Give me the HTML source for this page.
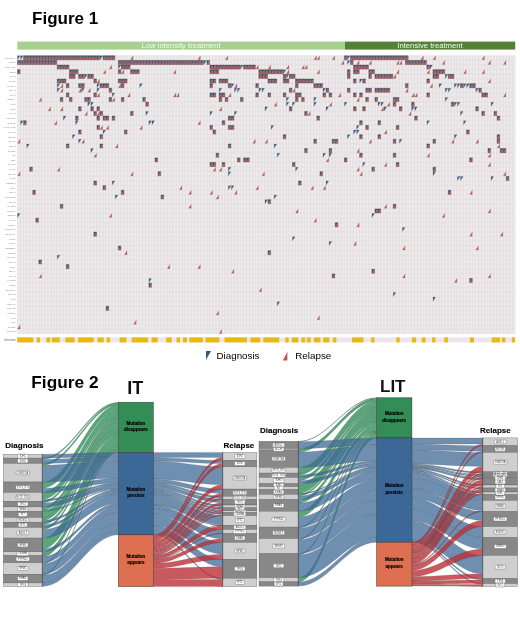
<!DOCTYPE html><html><head><meta charset="utf-8"><style>html,body{margin:0;padding:0;background:#fff;}svg{display:block;filter:blur(0.3px);font-family:"Liberation Sans",sans-serif;}</style></head><body>
<svg width="520" height="624" viewBox="0 0 520 624">
<rect width="520" height="624" fill="#fff"/>
<text x="32.1" y="23.6" font-size="17" font-weight="bold" fill="#000">Figure 1</text>
<rect x="17.3" y="41.6" width="327.7" height="8" fill="#a6d08e"/>
<rect x="345" y="41.6" width="170.2" height="8" fill="#548235"/>
<text x="181" y="48.3" font-size="7.7" text-anchor="middle" fill="#f4faef">Low intensity treatment</text>
<text x="430" y="48.3" font-size="7.7" text-anchor="middle" fill="#f4faef">Intensive treatment</text>
<rect x="17.3" y="55.5" width="497.97" height="278.4" fill="#dcd6d8"/>
<defs><pattern id="cp" x="17.3" y="55.5" width="3.055" height="4.64" patternUnits="userSpaceOnUse"><rect x="0.35" y="0.28" width="2.36" height="4.08" fill="#efeced"/></pattern></defs>
<rect x="17.3" y="55.5" width="497.97" height="278.4" fill="url(#cp)"/>
<path fill="#3b5f86" stroke="#2a3040" stroke-width="0.25" stroke-opacity="0.5" d="M17.55 55.8H20.11L17.55 59.84ZM20.61 55.8H23.16L20.61 59.84ZM23.66 55.8H26.22L23.66 59.84ZM26.72 55.8H29.27L26.72 59.84ZM29.77 55.8H32.33L29.77 59.84ZM32.83 55.8H35.38L32.83 59.84ZM35.88 55.8H38.44L35.88 59.84ZM38.94 55.8H41.49L38.94 59.84ZM41.99 55.8H44.55L41.99 59.84ZM45.05 55.8H47.6L45.05 59.84ZM48.1 55.8H50.66L48.1 59.84ZM51.16 55.8H53.71L51.16 59.84ZM54.21 55.8H56.77L54.21 59.84ZM57.27 55.8H59.82L57.27 59.84ZM60.32 55.8H62.88L60.32 59.84ZM63.38 55.8H65.93L63.38 59.84ZM66.43 55.8H68.98L66.43 59.84ZM69.48 55.8H72.04L69.48 59.84ZM72.54 55.8H75.09L72.54 59.84ZM75.59 55.8H78.15L75.59 59.84ZM78.65 55.8H81.2L78.65 59.84ZM81.7 55.8H84.26L81.7 59.84ZM84.76 55.8H87.31L84.76 59.84ZM87.81 55.8H90.37L87.81 59.84ZM90.87 55.8H93.42L90.87 59.84ZM93.92 55.8H96.48L93.92 59.84ZM96.98 55.8H99.53L96.98 59.84ZM100.03 55.8H102.59L100.03 59.84ZM103.09 55.8H105.64L103.09 59.84ZM106.14 55.8H108.7L106.14 59.84ZM109.2 55.8H111.75L109.2 59.84ZM112.25 55.8H114.81L112.25 59.84ZM344.44 55.8H346.99L344.44 59.84ZM347.49 55.8H350.05L347.49 59.84ZM350.55 55.8H353.1L350.55 59.84ZM353.6 55.8H356.16L353.6 59.84ZM356.66 55.8H359.21L356.66 59.84ZM359.71 55.8H362.27L359.71 59.84ZM362.77 55.8H365.32L362.77 59.84ZM365.82 55.8H368.38L365.82 59.84ZM368.88 55.8H371.43L368.88 59.84ZM371.93 55.8H374.49L371.93 59.84ZM374.99 55.8H377.54L374.99 59.84ZM378.04 55.8H380.6L378.04 59.84ZM381.1 55.8H383.65L381.1 59.84ZM384.15 55.8H386.71L384.15 59.84ZM387.21 55.8H389.76L387.21 59.84ZM390.26 55.8H392.82L390.26 59.84ZM393.32 55.8H395.87L393.32 59.84ZM396.37 55.8H398.93L396.37 59.84ZM399.43 55.8H401.98L399.43 59.84ZM402.48 55.8H405.04L402.48 59.84ZM405.54 55.8H408.09L405.54 59.84ZM17.55 60.44H20.11L17.55 64.48ZM20.61 60.44H23.16L20.61 64.48ZM23.66 60.44H26.22L23.66 64.48ZM26.72 60.44H29.27L26.72 64.48ZM29.77 60.44H32.33L29.77 64.48ZM32.83 60.44H35.38L32.83 64.48ZM35.88 60.44H38.44L35.88 64.48ZM38.94 60.44H41.49L38.94 64.48ZM41.99 60.44H44.55L41.99 64.48ZM45.05 60.44H47.6L45.05 64.48ZM48.1 60.44H50.66L48.1 64.48ZM51.16 60.44H53.71L51.16 64.48ZM54.21 60.44H56.77L54.21 64.48ZM118.37 60.44H120.92L118.37 64.48ZM121.42 60.44H123.98L121.42 64.48ZM124.48 60.44H127.03L124.48 64.48ZM127.53 60.44H130.09L127.53 64.48ZM130.59 60.44H133.14L130.59 64.48ZM133.64 60.44H136.2L133.64 64.48ZM136.7 60.44H139.25L136.7 64.48ZM139.75 60.44H142.31L139.75 64.48ZM142.81 60.44H145.36L142.81 64.48ZM145.86 60.44H148.42L145.86 64.48ZM148.92 60.44H151.47L148.92 64.48ZM151.97 60.44H154.53L151.97 64.48ZM155.03 60.44H157.58L155.03 64.48ZM158.08 60.44H160.64L158.08 64.48ZM161.14 60.44H163.69L161.14 64.48ZM164.19 60.44H166.75L164.19 64.48ZM167.25 60.44H169.8L167.25 64.48ZM170.3 60.44H172.86L170.3 64.48ZM173.36 60.44H175.91L173.36 64.48ZM176.41 60.44H178.97L176.41 64.48ZM179.47 60.44H182.02L179.47 64.48ZM182.52 60.44H185.08L182.52 64.48ZM185.58 60.44H188.13L185.58 64.48ZM188.63 60.44H191.19L188.63 64.48ZM191.69 60.44H194.24L191.69 64.48ZM194.74 60.44H197.3L194.74 64.48ZM197.8 60.44H200.35L197.8 64.48ZM200.85 60.44H203.41L200.85 64.48ZM203.91 60.44H206.46L203.91 64.48ZM206.96 60.44H209.52L206.96 64.48ZM347.49 60.44H350.05L347.49 64.48ZM350.55 60.44H353.1L350.55 64.48ZM405.54 60.44H408.09L405.54 64.48ZM408.59 60.44H411.15L408.59 64.48ZM411.65 60.44H414.2L411.65 64.48ZM414.7 60.44H417.26L414.7 64.48ZM417.76 60.44H420.31L417.76 64.48ZM420.81 60.44H423.37L420.81 64.48ZM423.87 60.44H426.42L423.87 64.48ZM57.27 65.08H59.82L57.27 69.12ZM60.32 65.08H62.88L60.32 69.12ZM63.38 65.08H65.93L63.38 69.12ZM66.43 65.08H68.98L66.43 69.12ZM118.37 65.08H120.92L118.37 69.12ZM121.42 65.08H123.98L121.42 69.12ZM124.48 65.08H127.03L124.48 69.12ZM127.53 65.08H130.09L127.53 69.12ZM210.02 65.08H212.57L210.02 69.12ZM213.07 65.08H215.63L213.07 69.12ZM216.13 65.08H218.68L216.13 69.12ZM219.18 65.08H221.74L219.18 69.12ZM222.24 65.08H224.79L222.24 69.12ZM225.29 65.08H227.85L225.29 69.12ZM228.35 65.08H230.9L228.35 69.12ZM231.4 65.08H233.96L231.4 69.12ZM234.46 65.08H237.01L234.46 69.12ZM237.51 65.08H240.07L237.51 69.12ZM240.57 65.08H243.12L240.57 69.12ZM243.62 65.08H246.18L243.62 69.12ZM246.68 65.08H249.23L246.68 69.12ZM249.73 65.08H252.29L249.73 69.12ZM252.79 65.08H255.34L252.79 69.12ZM353.6 65.08H356.16L353.6 69.12ZM356.66 65.08H359.21L356.66 69.12ZM359.71 65.08H362.27L359.71 69.12ZM362.77 65.08H365.32L362.77 69.12ZM365.82 65.08H368.38L365.82 69.12ZM426.92 65.08H429.48L426.92 69.12ZM429.98 65.08H432.53L429.98 69.12ZM17.55 69.72H20.11L17.55 73.76ZM69.48 69.72H72.04L69.48 73.76ZM72.54 69.72H75.09L72.54 73.76ZM75.59 69.72H78.15L75.59 73.76ZM118.37 69.72H120.92L118.37 73.76ZM130.59 69.72H133.14L130.59 73.76ZM133.64 69.72H136.2L133.64 73.76ZM136.7 69.72H139.25L136.7 73.76ZM210.02 69.72H212.57L210.02 73.76ZM213.07 69.72H215.63L213.07 73.76ZM216.13 69.72H218.68L216.13 73.76ZM258.89 69.72H261.45L258.89 73.76ZM261.95 69.72H264.5L261.95 73.76ZM265 69.72H267.56L265 73.76ZM268.06 69.72H270.62L268.06 73.76ZM271.12 69.72H273.67L271.12 73.76ZM274.17 69.72H276.73L274.17 73.76ZM277.23 69.72H279.78L277.23 73.76ZM280.28 69.72H282.84L280.28 73.76ZM283.34 69.72H285.89L283.34 73.76ZM347.49 69.72H350.05L347.49 73.76ZM353.6 69.72H356.16L353.6 73.76ZM356.66 69.72H359.21L356.66 73.76ZM368.88 69.72H371.43L368.88 73.76ZM371.93 69.72H374.49L371.93 73.76ZM433.03 69.72H435.59L433.03 73.76ZM436.09 69.72H438.64L436.09 73.76ZM439.14 69.72H441.7L439.14 73.76ZM442.2 69.72H444.75L442.2 73.76ZM69.48 74.36H72.04L69.48 78.4ZM72.54 74.36H75.09L72.54 78.4ZM78.65 74.36H81.2L78.65 78.4ZM81.7 74.36H84.26L81.7 78.4ZM84.76 74.36H87.31L84.76 78.4ZM87.81 74.36H90.37L87.81 78.4ZM90.87 74.36H93.42L90.87 78.4ZM258.89 74.36H261.45L258.89 78.4ZM261.95 74.36H264.5L261.95 78.4ZM265 74.36H267.56L265 78.4ZM283.34 74.36H285.89L283.34 78.4ZM286.39 74.36H288.95L286.39 78.4ZM289.45 74.36H292L289.45 78.4ZM292.5 74.36H295.06L292.5 78.4ZM347.49 74.36H350.05L347.49 78.4ZM368.88 74.36H371.43L368.88 78.4ZM374.99 74.36H377.54L374.99 78.4ZM378.04 74.36H380.6L378.04 78.4ZM381.1 74.36H383.65L381.1 78.4ZM384.15 74.36H386.71L384.15 78.4ZM387.21 74.36H389.76L387.21 78.4ZM390.26 74.36H392.82L390.26 78.4ZM433.03 74.36H435.59L433.03 78.4ZM436.09 74.36H438.64L436.09 78.4ZM445.25 74.36H447.81L445.25 78.4ZM448.31 74.36H450.86L448.31 78.4ZM451.36 74.36H453.92L451.36 78.4ZM57.27 79H59.82L57.27 83.04ZM60.32 79H62.88L60.32 83.04ZM63.38 79H65.93L63.38 83.04ZM93.92 79H96.48L93.92 83.04ZM118.37 79H120.92L118.37 83.04ZM121.42 79H123.98L121.42 83.04ZM124.48 79H127.03L124.48 83.04ZM210.02 79H212.57L210.02 83.04ZM213.07 79H215.63L213.07 83.04ZM219.18 79H221.74L219.18 83.04ZM222.24 79H224.79L222.24 83.04ZM225.29 79H227.85L225.29 83.04ZM268.06 79H270.62L268.06 83.04ZM271.12 79H273.67L271.12 83.04ZM274.17 79H276.73L274.17 83.04ZM283.34 79H285.89L283.34 83.04ZM286.39 79H288.95L286.39 83.04ZM295.56 79H298.11L295.56 83.04ZM298.61 79H301.17L298.61 83.04ZM301.67 79H304.22L301.67 83.04ZM304.72 79H307.28L304.72 83.04ZM307.78 79H310.33L307.78 83.04ZM310.83 79H313.39L310.83 83.04ZM353.6 79H356.16L353.6 83.04ZM359.71 79H362.27L359.71 83.04ZM362.77 79H365.32L362.77 83.04ZM426.92 79H429.48L426.92 83.04ZM57.27 83.64H59.82L57.27 87.68ZM66.43 83.64H68.98L66.43 87.68ZM78.65 83.64H81.2L78.65 87.68ZM81.7 83.64H84.26L81.7 87.68ZM96.98 83.64H99.53L96.98 87.68ZM100.03 83.64H102.59L100.03 87.68ZM103.09 83.64H105.64L103.09 87.68ZM106.14 83.64H108.7L106.14 87.68ZM121.42 83.64H123.98L121.42 87.68ZM139.75 83.64H142.31L139.75 87.68ZM210.02 83.64H212.57L210.02 87.68ZM228.35 83.64H230.9L228.35 87.68ZM231.4 83.64H233.96L231.4 87.68ZM255.84 83.64H258.39L255.84 87.68ZM295.56 83.64H298.11L295.56 87.68ZM313.89 83.64H316.44L313.89 87.68ZM316.94 83.64H319.5L316.94 87.68ZM320 83.64H322.55L320 87.68ZM405.54 83.64H408.09L405.54 87.68ZM439.14 83.64H441.7L439.14 87.68ZM454.42 83.64H456.97L454.42 87.68ZM457.47 83.64H460.03L457.47 87.68ZM460.53 83.64H463.08L460.53 87.68ZM463.58 83.64H466.14L463.58 87.68ZM466.64 83.64H469.19L466.64 87.68ZM469.69 83.64H472.25L469.69 87.68ZM472.75 83.64H475.3L472.75 87.68ZM57.27 88.28H59.82L57.27 92.32ZM81.7 88.28H84.26L81.7 92.32ZM96.98 88.28H99.53L96.98 92.32ZM109.2 88.28H111.75L109.2 92.32ZM219.18 88.28H221.74L219.18 92.32ZM234.46 88.28H237.01L234.46 92.32ZM237.51 88.28H240.07L237.51 92.32ZM258.89 88.28H261.45L258.89 92.32ZM261.95 88.28H264.5L261.95 92.32ZM289.45 88.28H292L289.45 92.32ZM323.05 88.28H325.61L323.05 92.32ZM326.11 88.28H328.66L326.11 92.32ZM347.49 88.28H350.05L347.49 92.32ZM365.82 88.28H368.38L365.82 92.32ZM368.88 88.28H371.43L368.88 92.32ZM374.99 88.28H377.54L374.99 92.32ZM378.04 88.28H380.6L378.04 92.32ZM381.1 88.28H383.65L381.1 92.32ZM384.15 88.28H386.71L384.15 92.32ZM387.21 88.28H389.76L387.21 92.32ZM445.25 88.28H447.81L445.25 92.32ZM448.31 88.28H450.86L448.31 92.32ZM475.8 88.28H478.36L475.8 92.32ZM478.86 88.28H481.41L478.86 92.32ZM66.43 92.92H68.98L66.43 96.96ZM93.92 92.92H96.48L93.92 96.96ZM112.25 92.92H114.81L112.25 96.96ZM210.02 92.92H212.57L210.02 96.96ZM213.07 92.92H215.63L213.07 96.96ZM219.18 92.92H221.74L219.18 96.96ZM222.24 92.92H224.79L222.24 96.96ZM255.84 92.92H258.39L255.84 96.96ZM268.06 92.92H270.62L268.06 96.96ZM283.34 92.92H285.89L283.34 96.96ZM295.56 92.92H298.11L295.56 96.96ZM298.61 92.92H301.17L298.61 96.96ZM323.05 92.92H325.61L323.05 96.96ZM329.16 92.92H331.72L329.16 96.96ZM353.6 92.92H356.16L353.6 96.96ZM359.71 92.92H362.27L359.71 96.96ZM426.92 92.92H429.48L426.92 96.96ZM481.91 92.92H484.47L481.91 96.96ZM484.97 92.92H487.52L484.97 96.96ZM60.32 97.56H62.88L60.32 101.6ZM69.48 97.56H72.04L69.48 101.6ZM84.76 97.56H87.31L84.76 101.6ZM87.81 97.56H90.37L87.81 101.6ZM109.2 97.56H111.75L109.2 101.6ZM121.42 97.56H123.98L121.42 101.6ZM142.81 97.56H145.36L142.81 101.6ZM219.18 97.56H221.74L219.18 101.6ZM225.29 97.56H227.85L225.29 101.6ZM240.57 97.56H243.12L240.57 101.6ZM286.39 97.56H288.95L286.39 101.6ZM295.56 97.56H298.11L295.56 101.6ZM301.67 97.56H304.22L301.67 101.6ZM313.89 97.56H316.44L313.89 101.6ZM365.82 97.56H368.38L365.82 101.6ZM374.99 97.56H377.54L374.99 101.6ZM393.32 97.56H395.87L393.32 101.6ZM396.37 97.56H398.93L396.37 101.6ZM445.25 97.56H447.81L445.25 101.6ZM87.81 102.2H90.37L87.81 106.24ZM90.87 102.2H93.42L90.87 106.24ZM145.86 102.2H148.42L145.86 106.24ZM286.39 102.2H288.95L286.39 106.24ZM292.5 102.2H295.06L292.5 106.24ZM313.89 102.2H316.44L313.89 106.24ZM344.44 102.2H346.99L344.44 106.24ZM378.04 102.2H380.6L378.04 106.24ZM381.1 102.2H383.65L381.1 106.24ZM393.32 102.2H395.87L393.32 106.24ZM411.65 102.2H414.2L411.65 106.24ZM451.36 102.2H453.92L451.36 106.24ZM454.42 102.2H456.97L454.42 106.24ZM457.47 102.2H460.03L457.47 106.24ZM491.08 102.2H493.63L491.08 106.24ZM78.65 106.84H81.2L78.65 110.88ZM90.87 106.84H93.42L90.87 110.88ZM96.98 106.84H99.53L96.98 110.88ZM265 106.84H267.56L265 110.88ZM289.45 106.84H292L289.45 110.88ZM326.11 106.84H328.66L326.11 110.88ZM353.6 106.84H356.16L353.6 110.88ZM362.77 106.84H365.32L362.77 110.88ZM384.15 106.84H386.71L384.15 110.88ZM399.43 106.84H401.98L399.43 110.88ZM411.65 106.84H414.2L411.65 110.88ZM414.7 106.84H417.26L414.7 110.88ZM475.8 106.84H478.36L475.8 110.88ZM93.92 111.48H96.48L93.92 115.52ZM100.03 111.48H102.59L100.03 115.52ZM130.59 111.48H133.14L130.59 115.52ZM145.86 111.48H148.42L145.86 115.52ZM210.02 111.48H212.57L210.02 115.52ZM234.46 111.48H237.01L234.46 115.52ZM304.72 111.48H307.28L304.72 115.52ZM460.53 111.48H463.08L460.53 115.52ZM481.91 111.48H484.47L481.91 115.52ZM494.13 111.48H496.69L494.13 115.52ZM63.38 116.12H65.93L63.38 120.16ZM75.59 116.12H78.15L75.59 120.16ZM96.98 116.12H99.53L96.98 120.16ZM103.09 116.12H105.64L103.09 120.16ZM106.14 116.12H108.7L106.14 120.16ZM112.25 116.12H114.81L112.25 120.16ZM228.35 116.12H230.9L228.35 120.16ZM231.4 116.12H233.96L231.4 120.16ZM316.94 116.12H319.5L316.94 120.16ZM414.7 116.12H417.26L414.7 120.16ZM497.19 116.12H499.74L497.19 120.16ZM20.61 120.76H23.16L20.61 124.8ZM23.66 120.76H26.22L23.66 124.8ZM75.59 120.76H78.15L75.59 124.8ZM148.92 120.76H151.47L148.92 124.8ZM151.97 120.76H154.53L151.97 124.8ZM222.24 120.76H224.79L222.24 124.8ZM359.71 120.76H362.27L359.71 124.8ZM378.04 120.76H380.6L378.04 124.8ZM426.92 120.76H429.48L426.92 124.8ZM463.58 120.76H466.14L463.58 124.8ZM96.98 125.4H99.53L96.98 129.44ZM210.02 125.4H212.57L210.02 129.44ZM228.35 125.4H230.9L228.35 129.44ZM231.4 125.4H233.96L231.4 129.44ZM271.12 125.4H273.67L271.12 129.44ZM356.66 125.4H359.21L356.66 129.44ZM365.82 125.4H368.38L365.82 129.44ZM396.37 125.4H398.93L396.37 129.44ZM78.65 130.04H81.2L78.65 134.08ZM103.09 130.04H105.64L103.09 134.08ZM124.48 130.04H127.03L124.48 134.08ZM213.07 130.04H215.63L213.07 134.08ZM353.6 130.04H356.16L353.6 134.08ZM356.66 130.04H359.21L356.66 134.08ZM466.64 130.04H469.19L466.64 134.08ZM72.54 134.68H75.09L72.54 138.72ZM100.03 134.68H102.59L100.03 138.72ZM283.34 134.68H285.89L283.34 138.72ZM347.49 134.68H350.05L347.49 138.72ZM359.71 134.68H362.27L359.71 138.72ZM378.04 134.68H380.6L378.04 138.72ZM454.42 134.68H456.97L454.42 138.72ZM497.19 134.68H499.74L497.19 138.72ZM78.65 139.32H81.2L78.65 143.36ZM313.89 139.32H316.44L313.89 143.36ZM332.22 139.32H334.77L332.22 143.36ZM335.27 139.32H337.83L335.27 143.36ZM393.32 139.32H395.87L393.32 143.36ZM399.43 139.32H401.98L399.43 143.36ZM433.03 139.32H435.59L433.03 143.36ZM497.19 139.32H499.74L497.19 143.36ZM26.72 143.96H29.27L26.72 148ZM66.43 143.96H68.98L66.43 148ZM100.03 143.96H102.59L100.03 148ZM228.35 143.96H230.9L228.35 148ZM274.17 143.96H276.73L274.17 148ZM426.92 143.96H429.48L426.92 148ZM90.87 148.6H93.42L90.87 152.64ZM304.72 148.6H307.28L304.72 152.64ZM329.16 148.6H331.72L329.16 152.64ZM488.02 148.6H490.58L488.02 152.64ZM500.24 148.6H502.8L500.24 152.64ZM503.3 148.6H505.85L503.3 152.64ZM216.13 153.24H218.68L216.13 157.28ZM277.23 153.24H279.78L277.23 157.28ZM323.05 153.24H325.61L323.05 157.28ZM329.16 153.24H331.72L329.16 157.28ZM359.71 153.24H362.27L359.71 157.28ZM393.32 153.24H395.87L393.32 157.28ZM155.03 157.88H157.58L155.03 161.92ZM237.51 157.88H240.07L237.51 161.92ZM243.62 157.88H246.18L243.62 161.92ZM246.68 157.88H249.23L246.68 161.92ZM344.44 157.88H346.99L344.44 161.92ZM469.69 157.88H472.25L469.69 161.92ZM210.02 162.52H212.57L210.02 166.56ZM213.07 162.52H215.63L213.07 166.56ZM222.24 162.52H224.79L222.24 166.56ZM292.5 162.52H295.06L292.5 166.56ZM362.77 162.52H365.32L362.77 166.56ZM396.37 162.52H398.93L396.37 166.56ZM29.77 167.16H32.33L29.77 171.2ZM228.35 167.16H230.9L228.35 171.2ZM295.56 167.16H298.11L295.56 171.2ZM371.93 167.16H374.49L371.93 171.2ZM433.03 167.16H435.59L433.03 171.2ZM158.08 171.8H160.64L158.08 175.84ZM228.35 171.8H230.9L228.35 175.84ZM320 171.8H322.55L320 175.84ZM433.03 171.8H435.59L433.03 175.84ZM457.47 176.44H460.03L457.47 180.48ZM460.53 176.44H463.08L460.53 180.48ZM491.08 176.44H493.63L491.08 180.48ZM506.35 176.44H508.91L506.35 180.48ZM93.92 181.08H96.48L93.92 185.12ZM112.25 181.08H114.81L112.25 185.12ZM298.61 181.08H301.17L298.61 185.12ZM326.11 181.08H328.66L326.11 185.12ZM103.09 185.72H105.64L103.09 189.76ZM228.35 185.72H230.9L228.35 189.76ZM231.4 185.72H233.96L231.4 189.76ZM32.83 190.36H35.38L32.83 194.4ZM121.42 190.36H123.98L121.42 194.4ZM448.31 190.36H450.86L448.31 194.4ZM115.31 195H117.87L115.31 199.04ZM161.14 195H163.69L161.14 199.04ZM274.17 195H276.73L274.17 199.04ZM265 199.64H267.56L265 203.68ZM268.06 199.64H270.62L268.06 203.68ZM60.32 204.28H62.88L60.32 208.32ZM393.32 204.28H395.87L393.32 208.32ZM374.99 208.92H377.54L374.99 212.96ZM378.04 208.92H380.6L378.04 212.96ZM17.55 213.56H20.11L17.55 217.6ZM371.93 213.56H374.49L371.93 217.6ZM35.88 218.2H38.44L35.88 222.24ZM335.27 222.84H337.83L335.27 226.88ZM402.48 227.48H405.04L402.48 231.52ZM93.92 232.12H96.48L93.92 236.16ZM292.5 236.76H295.06L292.5 240.8ZM329.16 241.4H331.72L329.16 245.44ZM118.37 246.04H120.92L118.37 250.08ZM268.06 250.68H270.62L268.06 254.72ZM57.27 255.32H59.82L57.27 259.36ZM38.94 259.96H41.49L38.94 264ZM66.43 264.6H68.98L66.43 268.64ZM371.93 269.24H374.49L371.93 273.28ZM332.22 273.88H334.77L332.22 277.92ZM148.92 278.52H151.47L148.92 282.56ZM469.69 278.52H472.25L469.69 282.56ZM148.92 283.16H151.47L148.92 287.2ZM393.32 292.44H395.87L393.32 296.48ZM433.03 297.08H435.59L433.03 301.12ZM277.23 301.72H279.78L277.23 305.76ZM106.14 306.36H108.7L106.14 310.4Z"/>
<path fill="#cc5c52" stroke="#3a2a2a" stroke-width="0.25" stroke-opacity="0.4" d="M26.22 55.8V59.84H23.66ZM29.27 55.8V59.84H26.72ZM32.33 55.8V59.84H29.77ZM35.38 55.8V59.84H32.83ZM38.44 55.8V59.84H35.88ZM41.49 55.8V59.84H38.94ZM44.55 55.8V59.84H41.99ZM47.6 55.8V59.84H45.05ZM50.66 55.8V59.84H48.1ZM53.71 55.8V59.84H51.16ZM56.77 55.8V59.84H54.21ZM59.82 55.8V59.84H57.27ZM62.88 55.8V59.84H60.32ZM65.93 55.8V59.84H63.38ZM68.98 55.8V59.84H66.43ZM72.04 55.8V59.84H69.48ZM75.09 55.8V59.84H72.54ZM78.15 55.8V59.84H75.59ZM81.2 55.8V59.84H78.65ZM84.26 55.8V59.84H81.7ZM87.31 55.8V59.84H84.76ZM90.37 55.8V59.84H87.81ZM93.42 55.8V59.84H90.87ZM96.48 55.8V59.84H93.92ZM99.53 55.8V59.84H96.98ZM105.64 55.8V59.84H103.09ZM108.7 55.8V59.84H106.14ZM111.75 55.8V59.84H109.2ZM114.81 55.8V59.84H112.25ZM133.14 55.8V59.84H130.59ZM200.35 55.8V59.84H197.8ZM227.85 55.8V59.84H225.29ZM316.44 55.8V59.84H313.89ZM319.5 55.8V59.84H316.94ZM334.77 55.8V59.84H332.22ZM346.99 55.8V59.84H344.44ZM353.1 55.8V59.84H350.55ZM356.16 55.8V59.84H353.6ZM359.21 55.8V59.84H356.66ZM362.27 55.8V59.84H359.71ZM365.32 55.8V59.84H362.77ZM368.38 55.8V59.84H365.82ZM371.43 55.8V59.84H368.88ZM374.49 55.8V59.84H371.93ZM377.54 55.8V59.84H374.99ZM380.6 55.8V59.84H378.04ZM383.65 55.8V59.84H381.1ZM386.71 55.8V59.84H384.15ZM389.76 55.8V59.84H387.21ZM392.82 55.8V59.84H390.26ZM395.87 55.8V59.84H393.32ZM398.93 55.8V59.84H396.37ZM401.98 55.8V59.84H399.43ZM405.04 55.8V59.84H402.48ZM408.09 55.8V59.84H405.54ZM423.37 55.8V59.84H420.81ZM435.59 55.8V59.84H433.03ZM484.47 55.8V59.84H481.91ZM20.11 60.44V64.48H17.55ZM23.16 60.44V64.48H20.61ZM26.22 60.44V64.48H23.66ZM29.27 60.44V64.48H26.72ZM32.33 60.44V64.48H29.77ZM35.38 60.44V64.48H32.83ZM38.44 60.44V64.48H35.88ZM41.49 60.44V64.48H38.94ZM44.55 60.44V64.48H41.99ZM47.6 60.44V64.48H45.05ZM50.66 60.44V64.48H48.1ZM53.71 60.44V64.48H51.16ZM56.77 60.44V64.48H54.21ZM120.92 60.44V64.48H118.37ZM123.98 60.44V64.48H121.42ZM127.03 60.44V64.48H124.48ZM130.09 60.44V64.48H127.53ZM133.14 60.44V64.48H130.59ZM136.2 60.44V64.48H133.64ZM139.25 60.44V64.48H136.7ZM142.31 60.44V64.48H139.75ZM145.36 60.44V64.48H142.81ZM148.42 60.44V64.48H145.86ZM151.47 60.44V64.48H148.92ZM154.53 60.44V64.48H151.97ZM157.58 60.44V64.48H155.03ZM160.64 60.44V64.48H158.08ZM163.69 60.44V64.48H161.14ZM166.75 60.44V64.48H164.19ZM169.8 60.44V64.48H167.25ZM172.86 60.44V64.48H170.3ZM175.91 60.44V64.48H173.36ZM178.97 60.44V64.48H176.41ZM182.02 60.44V64.48H179.47ZM185.08 60.44V64.48H182.52ZM188.13 60.44V64.48H185.58ZM191.19 60.44V64.48H188.63ZM194.24 60.44V64.48H191.69ZM197.3 60.44V64.48H194.74ZM200.35 60.44V64.48H197.8ZM203.41 60.44V64.48H200.85ZM209.52 60.44V64.48H206.96ZM343.94 60.44V64.48H341.38ZM353.1 60.44V64.48H350.55ZM359.21 60.44V64.48H356.66ZM371.43 60.44V64.48H368.88ZM398.93 60.44V64.48H396.37ZM401.98 60.44V64.48H399.43ZM408.09 60.44V64.48H405.54ZM411.15 60.44V64.48H408.59ZM414.2 60.44V64.48H411.65ZM417.26 60.44V64.48H414.7ZM420.31 60.44V64.48H417.76ZM423.37 60.44V64.48H420.81ZM426.42 60.44V64.48H423.87ZM444.75 60.44V64.48H442.2ZM490.58 60.44V64.48H488.02ZM505.85 60.44V64.48H503.3ZM59.82 65.08V69.12H57.27ZM62.88 65.08V69.12H60.32ZM65.93 65.08V69.12H63.38ZM68.98 65.08V69.12H66.43ZM111.75 65.08V69.12H109.2ZM123.98 65.08V69.12H121.42ZM127.03 65.08V69.12H124.48ZM130.09 65.08V69.12H127.53ZM212.57 65.08V69.12H210.02ZM215.63 65.08V69.12H213.07ZM218.68 65.08V69.12H216.13ZM221.74 65.08V69.12H219.18ZM224.79 65.08V69.12H222.24ZM227.85 65.08V69.12H225.29ZM230.9 65.08V69.12H228.35ZM233.96 65.08V69.12H231.4ZM237.01 65.08V69.12H234.46ZM240.07 65.08V69.12H237.51ZM246.18 65.08V69.12H243.62ZM249.23 65.08V69.12H246.68ZM252.29 65.08V69.12H249.73ZM255.34 65.08V69.12H252.79ZM258.39 65.08V69.12H255.84ZM270.62 65.08V69.12H268.06ZM288.95 65.08V69.12H286.39ZM304.22 65.08V69.12H301.67ZM307.28 65.08V69.12H304.72ZM356.16 65.08V69.12H353.6ZM359.21 65.08V69.12H356.66ZM362.27 65.08V69.12H359.71ZM365.32 65.08V69.12H362.77ZM368.38 65.08V69.12H365.82ZM429.48 65.08V69.12H426.92ZM20.11 69.72V73.76H17.55ZM72.04 69.72V73.76H69.48ZM75.09 69.72V73.76H72.54ZM78.15 69.72V73.76H75.59ZM105.64 69.72V73.76H103.09ZM120.92 69.72V73.76H118.37ZM123.98 69.72V73.76H121.42ZM133.14 69.72V73.76H130.59ZM136.2 69.72V73.76H133.64ZM139.25 69.72V73.76H136.7ZM175.91 69.72V73.76H173.36ZM212.57 69.72V73.76H210.02ZM215.63 69.72V73.76H213.07ZM218.68 69.72V73.76H216.13ZM261.45 69.72V73.76H258.89ZM264.5 69.72V73.76H261.95ZM267.56 69.72V73.76H265ZM270.62 69.72V73.76H268.06ZM273.67 69.72V73.76H271.12ZM276.73 69.72V73.76H274.17ZM279.78 69.72V73.76H277.23ZM282.84 69.72V73.76H280.28ZM288.95 69.72V73.76H286.39ZM319.5 69.72V73.76H316.94ZM350.05 69.72V73.76H347.49ZM356.16 69.72V73.76H353.6ZM359.21 69.72V73.76H356.66ZM371.43 69.72V73.76H368.88ZM374.49 69.72V73.76H371.93ZM398.93 69.72V73.76H396.37ZM429.48 69.72V73.76H426.92ZM435.59 69.72V73.76H433.03ZM438.64 69.72V73.76H436.09ZM441.7 69.72V73.76H439.14ZM444.75 69.72V73.76H442.2ZM466.14 69.72V73.76H463.58ZM484.47 69.72V73.76H481.91ZM72.04 74.36V78.4H69.48ZM75.09 74.36V78.4H72.54ZM81.2 74.36V78.4H78.65ZM84.26 74.36V78.4H81.7ZM90.37 74.36V78.4H87.81ZM93.42 74.36V78.4H90.87ZM261.45 74.36V78.4H258.89ZM264.5 74.36V78.4H261.95ZM267.56 74.36V78.4H265ZM285.89 74.36V78.4H283.34ZM292 74.36V78.4H289.45ZM295.06 74.36V78.4H292.5ZM350.05 74.36V78.4H347.49ZM371.43 74.36V78.4H368.88ZM377.54 74.36V78.4H374.99ZM380.6 74.36V78.4H378.04ZM383.65 74.36V78.4H381.1ZM386.71 74.36V78.4H384.15ZM389.76 74.36V78.4H387.21ZM392.82 74.36V78.4H390.26ZM395.87 74.36V78.4H393.32ZM435.59 74.36V78.4H433.03ZM438.64 74.36V78.4H436.09ZM450.86 74.36V78.4H448.31ZM453.92 74.36V78.4H451.36ZM59.82 79V83.04H57.27ZM62.88 79V83.04H60.32ZM65.93 79V83.04H63.38ZM96.48 79V83.04H93.92ZM99.53 79V83.04H96.98ZM120.92 79V83.04H118.37ZM123.98 79V83.04H121.42ZM127.03 79V83.04H124.48ZM212.57 79V83.04H210.02ZM215.63 79V83.04H213.07ZM221.74 79V83.04H219.18ZM224.79 79V83.04H222.24ZM227.85 79V83.04H225.29ZM270.62 79V83.04H268.06ZM273.67 79V83.04H271.12ZM276.73 79V83.04H274.17ZM285.89 79V83.04H283.34ZM288.95 79V83.04H286.39ZM298.11 79V83.04H295.56ZM301.17 79V83.04H298.61ZM304.22 79V83.04H301.67ZM307.28 79V83.04H304.72ZM310.33 79V83.04H307.78ZM313.39 79V83.04H310.83ZM356.16 79V83.04H353.6ZM365.32 79V83.04H362.77ZM429.48 79V83.04H426.92ZM490.58 79V83.04H488.02ZM62.88 83.64V87.68H60.32ZM68.98 83.64V87.68H66.43ZM81.2 83.64V87.68H78.65ZM84.26 83.64V87.68H81.7ZM102.59 83.64V87.68H100.03ZM105.64 83.64V87.68H103.09ZM108.7 83.64V87.68H106.14ZM120.92 83.64V87.68H118.37ZM123.98 83.64V87.68H121.42ZM212.57 83.64V87.68H210.02ZM230.9 83.64V87.68H228.35ZM237.01 83.64V87.68H234.46ZM258.39 83.64V87.68H255.84ZM298.11 83.64V87.68H295.56ZM316.44 83.64V87.68H313.89ZM319.5 83.64V87.68H316.94ZM322.55 83.64V87.68H320ZM408.09 83.64V87.68H405.54ZM432.53 83.64V87.68H429.98ZM463.08 83.64V87.68H460.53ZM472.25 83.64V87.68H469.69ZM475.3 83.64V87.68H472.75ZM62.88 88.28V92.32H60.32ZM81.2 88.28V92.32H78.65ZM90.37 88.28V92.32H87.81ZM111.75 88.28V92.32H109.2ZM292 88.28V92.32H289.45ZM295.06 88.28V92.32H292.5ZM328.66 88.28V92.32H326.11ZM350.05 88.28V92.32H347.49ZM368.38 88.28V92.32H365.82ZM371.43 88.28V92.32H368.88ZM377.54 88.28V92.32H374.99ZM380.6 88.28V92.32H378.04ZM383.65 88.28V92.32H381.1ZM386.71 88.28V92.32H384.15ZM389.76 88.28V92.32H387.21ZM408.09 88.28V92.32H405.54ZM481.41 88.28V92.32H478.86ZM68.98 92.92V96.96H66.43ZM96.48 92.92V96.96H93.92ZM99.53 92.92V96.96H96.98ZM130.09 92.92V96.96H127.53ZM175.91 92.92V96.96H173.36ZM178.97 92.92V96.96H176.41ZM212.57 92.92V96.96H210.02ZM215.63 92.92V96.96H213.07ZM221.74 92.92V96.96H219.18ZM224.79 92.92V96.96H222.24ZM230.9 92.92V96.96H228.35ZM258.39 92.92V96.96H255.84ZM270.62 92.92V96.96H268.06ZM285.89 92.92V96.96H283.34ZM298.11 92.92V96.96H295.56ZM301.17 92.92V96.96H298.61ZM325.61 92.92V96.96H323.05ZM331.72 92.92V96.96H329.16ZM340.88 92.92V96.96H338.33ZM356.16 92.92V96.96H353.6ZM362.27 92.92V96.96H359.71ZM414.2 92.92V96.96H411.65ZM417.26 92.92V96.96H414.7ZM429.48 92.92V96.96H426.92ZM484.47 92.92V96.96H481.91ZM487.52 92.92V96.96H484.97ZM505.85 92.92V96.96H503.3ZM41.49 97.56V101.6H38.94ZM62.88 97.56V101.6H60.32ZM72.04 97.56V101.6H69.48ZM87.31 97.56V101.6H84.76ZM90.37 97.56V101.6H87.81ZM111.75 97.56V101.6H109.2ZM114.81 97.56V101.6H112.25ZM123.98 97.56V101.6H121.42ZM145.36 97.56V101.6H142.81ZM221.74 97.56V101.6H219.18ZM227.85 97.56V101.6H225.29ZM243.12 97.56V101.6H240.57ZM298.11 97.56V101.6H295.56ZM304.22 97.56V101.6H301.67ZM359.21 97.56V101.6H356.66ZM368.38 97.56V101.6H365.82ZM377.54 97.56V101.6H374.99ZM395.87 97.56V101.6H393.32ZM398.93 97.56V101.6H396.37ZM148.42 102.2V106.24H145.86ZM276.73 102.2V106.24H274.17ZM331.72 102.2V106.24H329.16ZM389.76 102.2V106.24H387.21ZM395.87 102.2V106.24H393.32ZM414.2 102.2V106.24H411.65ZM453.92 102.2V106.24H451.36ZM50.66 106.84V110.88H48.1ZM62.88 106.84V110.88H60.32ZM81.2 106.84V110.88H78.65ZM93.42 106.84V110.88H90.87ZM99.53 106.84V110.88H96.98ZM221.74 106.84V110.88H219.18ZM292 106.84V110.88H289.45ZM356.16 106.84V110.88H353.6ZM365.32 106.84V110.88H362.77ZM383.65 106.84V110.88H381.1ZM401.98 106.84V110.88H399.43ZM478.36 106.84V110.88H475.8ZM87.31 111.48V115.52H84.76ZM96.48 111.48V115.52H93.92ZM99.53 111.48V115.52H96.98ZM102.59 111.48V115.52H100.03ZM133.14 111.48V115.52H130.59ZM307.28 111.48V115.52H304.72ZM310.33 111.48V115.52H307.78ZM411.15 111.48V115.52H408.59ZM484.47 111.48V115.52H481.91ZM496.69 111.48V115.52H494.13ZM78.15 116.12V120.16H75.59ZM99.53 116.12V120.16H96.98ZM105.64 116.12V120.16H103.09ZM108.7 116.12V120.16H106.14ZM114.81 116.12V120.16H112.25ZM230.9 116.12V120.16H228.35ZM233.96 116.12V120.16H231.4ZM319.5 116.12V120.16H316.94ZM417.26 116.12V120.16H414.7ZM499.74 116.12V120.16H497.19ZM26.22 120.76V124.8H23.66ZM56.77 120.76V124.8H54.21ZM200.35 120.76V124.8H197.8ZM224.79 120.76V124.8H222.24ZM362.27 120.76V124.8H359.71ZM380.6 120.76V124.8H378.04ZM99.53 125.4V129.44H96.98ZM102.59 125.4V129.44H100.03ZM108.7 125.4V129.44H106.14ZM142.31 125.4V129.44H139.75ZM212.57 125.4V129.44H210.02ZM230.9 125.4V129.44H228.35ZM233.96 125.4V129.44H231.4ZM368.38 125.4V129.44H365.82ZM398.93 125.4V129.44H396.37ZM81.2 130.04V134.08H78.65ZM127.03 130.04V134.08H124.48ZM215.63 130.04V134.08H213.07ZM386.71 130.04V134.08H384.15ZM469.19 130.04V134.08H466.64ZM102.59 134.68V138.72H100.03ZM285.89 134.68V138.72H283.34ZM362.27 134.68V138.72H359.71ZM380.6 134.68V138.72H378.04ZM499.74 134.68V138.72H497.19ZM20.11 139.32V143.36H17.55ZM84.26 139.32V143.36H81.7ZM255.34 139.32V143.36H252.79ZM267.56 139.32V143.36H265ZM316.44 139.32V143.36H313.89ZM334.77 139.32V143.36H332.22ZM337.83 139.32V143.36H335.27ZM371.43 139.32V143.36H368.88ZM395.87 139.32V143.36H393.32ZM435.59 139.32V143.36H433.03ZM453.92 139.32V143.36H451.36ZM478.36 139.32V143.36H475.8ZM499.74 139.32V143.36H497.19ZM68.98 143.96V148H66.43ZM102.59 143.96V148H100.03ZM117.87 143.96V148H115.31ZM230.9 143.96V148H228.35ZM429.48 143.96V148H426.92ZM499.74 143.96V148H497.19ZM307.28 148.6V152.64H304.72ZM331.72 148.6V152.64H329.16ZM359.21 148.6V152.64H356.66ZM490.58 148.6V152.64H488.02ZM502.8 148.6V152.64H500.24ZM505.85 148.6V152.64H503.3ZM96.48 153.24V157.28H93.92ZM218.68 153.24V157.28H216.13ZM362.27 153.24V157.28H359.71ZM395.87 153.24V157.28H393.32ZM429.48 153.24V157.28H426.92ZM490.58 153.24V157.28H488.02ZM157.58 157.88V161.92H155.03ZM240.07 157.88V161.92H237.51ZM246.18 157.88V161.92H243.62ZM249.23 157.88V161.92H246.68ZM328.66 157.88V161.92H326.11ZM346.99 157.88V161.92H344.44ZM472.25 157.88V161.92H469.69ZM212.57 162.52V166.56H210.02ZM215.63 162.52V166.56H213.07ZM224.79 162.52V166.56H222.24ZM295.06 162.52V166.56H292.5ZM386.71 162.52V166.56H384.15ZM398.93 162.52V166.56H396.37ZM490.58 162.52V166.56H488.02ZM32.33 167.16V171.2H29.77ZM59.82 167.16V171.2H57.27ZM215.63 167.16V171.2H213.07ZM221.74 167.16V171.2H219.18ZM359.21 167.16V171.2H356.66ZM374.49 167.16V171.2H371.93ZM435.59 167.16V171.2H433.03ZM20.11 171.8V175.84H17.55ZM133.14 171.8V175.84H130.59ZM160.64 171.8V175.84H158.08ZM264.5 171.8V175.84H261.95ZM322.55 171.8V175.84H320ZM362.27 171.8V175.84H359.71ZM505.85 171.8V175.84H503.3ZM508.91 176.44V180.48H506.35ZM96.48 181.08V185.12H93.92ZM301.17 181.08V185.12H298.61ZM105.64 185.72V189.76H103.09ZM182.02 185.72V189.76H179.47ZM258.39 185.72V189.76H255.84ZM313.39 185.72V189.76H310.83ZM325.61 185.72V189.76H323.05ZM35.38 190.36V194.4H32.83ZM123.98 190.36V194.4H121.42ZM191.19 190.36V194.4H188.63ZM212.57 190.36V194.4H210.02ZM237.01 190.36V194.4H234.46ZM450.86 190.36V194.4H448.31ZM472.25 190.36V194.4H469.69ZM163.69 195V199.04H161.14ZM218.68 195V199.04H216.13ZM270.62 199.64V203.68H268.06ZM62.88 204.28V208.32H60.32ZM191.19 204.28V208.32H188.63ZM386.71 204.28V208.32H384.15ZM395.87 204.28V208.32H393.32ZM298.11 208.92V212.96H295.56ZM377.54 208.92V212.96H374.99ZM380.6 208.92V212.96H378.04ZM490.58 208.92V212.96H488.02ZM111.75 213.56V217.6H109.2ZM444.75 213.56V217.6H442.2ZM38.44 218.2V222.24H35.88ZM316.44 218.2V222.24H313.89ZM337.83 222.84V226.88H335.27ZM359.21 222.84V226.88H356.66ZM96.48 232.12V236.16H93.92ZM472.25 232.12V236.16H469.69ZM502.8 232.12V236.16H500.24ZM356.16 241.4V245.44H353.6ZM120.92 246.04V250.08H118.37ZM405.04 246.04V250.08H402.48ZM478.36 246.04V250.08H475.8ZM127.03 250.68V254.72H124.48ZM270.62 250.68V254.72H268.06ZM41.49 259.96V264H38.94ZM68.98 264.6V268.64H66.43ZM169.8 264.6V268.64H167.25ZM200.35 264.6V268.64H197.8ZM233.96 269.24V273.28H231.4ZM374.49 269.24V273.28H371.93ZM41.49 273.88V277.92H38.94ZM334.77 273.88V277.92H332.22ZM405.04 273.88V277.92H402.48ZM490.58 273.88V277.92H488.02ZM456.97 278.52V282.56H454.42ZM472.25 278.52V282.56H469.69ZM151.47 283.16V287.2H148.92ZM261.45 287.8V291.84H258.89ZM108.7 306.36V310.4H106.14ZM218.68 311V315.04H216.13ZM319.5 315.64V319.68H316.94ZM136.2 320.28V324.32H133.64ZM20.11 324.92V328.96H17.55ZM221.74 329.56V333.6H219.18Z"/>
<path fill="none" stroke="#4a3a48" stroke-width="0.5" stroke-opacity="0.6" d="M23.66 55.8h2.56v4.04h-2.56ZM26.72 55.8h2.56v4.04h-2.56ZM29.77 55.8h2.56v4.04h-2.56ZM32.83 55.8h2.56v4.04h-2.56ZM35.88 55.8h2.56v4.04h-2.56ZM38.94 55.8h2.56v4.04h-2.56ZM41.99 55.8h2.56v4.04h-2.56ZM45.05 55.8h2.56v4.04h-2.56ZM48.1 55.8h2.56v4.04h-2.56ZM51.16 55.8h2.56v4.04h-2.56ZM54.21 55.8h2.56v4.04h-2.56ZM57.27 55.8h2.56v4.04h-2.56ZM60.32 55.8h2.56v4.04h-2.56ZM63.38 55.8h2.56v4.04h-2.56ZM66.43 55.8h2.56v4.04h-2.56ZM69.48 55.8h2.56v4.04h-2.56ZM72.54 55.8h2.56v4.04h-2.56ZM75.59 55.8h2.56v4.04h-2.56ZM78.65 55.8h2.56v4.04h-2.56ZM81.7 55.8h2.56v4.04h-2.56ZM84.76 55.8h2.56v4.04h-2.56ZM87.81 55.8h2.56v4.04h-2.56ZM90.87 55.8h2.56v4.04h-2.56ZM93.92 55.8h2.56v4.04h-2.56ZM96.98 55.8h2.56v4.04h-2.56ZM103.09 55.8h2.56v4.04h-2.56ZM106.14 55.8h2.56v4.04h-2.56ZM109.2 55.8h2.56v4.04h-2.56ZM112.25 55.8h2.56v4.04h-2.56ZM344.44 55.8h2.56v4.04h-2.56ZM350.55 55.8h2.56v4.04h-2.56ZM353.6 55.8h2.56v4.04h-2.56ZM356.66 55.8h2.56v4.04h-2.56ZM359.71 55.8h2.56v4.04h-2.56ZM362.77 55.8h2.56v4.04h-2.56ZM365.82 55.8h2.56v4.04h-2.56ZM368.88 55.8h2.56v4.04h-2.56ZM371.93 55.8h2.56v4.04h-2.56ZM374.99 55.8h2.56v4.04h-2.56ZM378.04 55.8h2.56v4.04h-2.56ZM381.1 55.8h2.56v4.04h-2.56ZM384.15 55.8h2.56v4.04h-2.56ZM387.21 55.8h2.56v4.04h-2.56ZM390.26 55.8h2.56v4.04h-2.56ZM393.32 55.8h2.56v4.04h-2.56ZM396.37 55.8h2.56v4.04h-2.56ZM399.43 55.8h2.56v4.04h-2.56ZM402.48 55.8h2.56v4.04h-2.56ZM405.54 55.8h2.56v4.04h-2.56ZM17.55 60.44h2.56v4.04h-2.56ZM20.61 60.44h2.56v4.04h-2.56ZM23.66 60.44h2.56v4.04h-2.56ZM26.72 60.44h2.56v4.04h-2.56ZM29.77 60.44h2.56v4.04h-2.56ZM32.83 60.44h2.56v4.04h-2.56ZM35.88 60.44h2.56v4.04h-2.56ZM38.94 60.44h2.56v4.04h-2.56ZM41.99 60.44h2.56v4.04h-2.56ZM45.05 60.44h2.56v4.04h-2.56ZM48.1 60.44h2.56v4.04h-2.56ZM51.16 60.44h2.56v4.04h-2.56ZM54.21 60.44h2.56v4.04h-2.56ZM118.37 60.44h2.56v4.04h-2.56ZM121.42 60.44h2.56v4.04h-2.56ZM124.48 60.44h2.56v4.04h-2.56ZM127.53 60.44h2.56v4.04h-2.56ZM130.59 60.44h2.56v4.04h-2.56ZM133.64 60.44h2.56v4.04h-2.56ZM136.7 60.44h2.56v4.04h-2.56ZM139.75 60.44h2.56v4.04h-2.56ZM142.81 60.44h2.56v4.04h-2.56ZM145.86 60.44h2.56v4.04h-2.56ZM148.92 60.44h2.56v4.04h-2.56ZM151.97 60.44h2.56v4.04h-2.56ZM155.03 60.44h2.56v4.04h-2.56ZM158.08 60.44h2.56v4.04h-2.56ZM161.14 60.44h2.56v4.04h-2.56ZM164.19 60.44h2.56v4.04h-2.56ZM167.25 60.44h2.56v4.04h-2.56ZM170.3 60.44h2.56v4.04h-2.56ZM173.36 60.44h2.56v4.04h-2.56ZM176.41 60.44h2.56v4.04h-2.56ZM179.47 60.44h2.56v4.04h-2.56ZM182.52 60.44h2.56v4.04h-2.56ZM185.58 60.44h2.56v4.04h-2.56ZM188.63 60.44h2.56v4.04h-2.56ZM191.69 60.44h2.56v4.04h-2.56ZM194.74 60.44h2.56v4.04h-2.56ZM197.8 60.44h2.56v4.04h-2.56ZM200.85 60.44h2.56v4.04h-2.56ZM206.96 60.44h2.56v4.04h-2.56ZM350.55 60.44h2.56v4.04h-2.56ZM405.54 60.44h2.56v4.04h-2.56ZM408.59 60.44h2.56v4.04h-2.56ZM411.65 60.44h2.56v4.04h-2.56ZM414.7 60.44h2.56v4.04h-2.56ZM417.76 60.44h2.56v4.04h-2.56ZM420.81 60.44h2.56v4.04h-2.56ZM423.87 60.44h2.56v4.04h-2.56ZM57.27 65.08h2.56v4.04h-2.56ZM60.32 65.08h2.56v4.04h-2.56ZM63.38 65.08h2.56v4.04h-2.56ZM66.43 65.08h2.56v4.04h-2.56ZM121.42 65.08h2.56v4.04h-2.56ZM124.48 65.08h2.56v4.04h-2.56ZM127.53 65.08h2.56v4.04h-2.56ZM210.02 65.08h2.56v4.04h-2.56ZM213.07 65.08h2.56v4.04h-2.56ZM216.13 65.08h2.56v4.04h-2.56ZM219.18 65.08h2.56v4.04h-2.56ZM222.24 65.08h2.56v4.04h-2.56ZM225.29 65.08h2.56v4.04h-2.56ZM228.35 65.08h2.56v4.04h-2.56ZM231.4 65.08h2.56v4.04h-2.56ZM234.46 65.08h2.56v4.04h-2.56ZM237.51 65.08h2.56v4.04h-2.56ZM243.62 65.08h2.56v4.04h-2.56ZM246.68 65.08h2.56v4.04h-2.56ZM249.73 65.08h2.56v4.04h-2.56ZM252.79 65.08h2.56v4.04h-2.56ZM353.6 65.08h2.56v4.04h-2.56ZM356.66 65.08h2.56v4.04h-2.56ZM359.71 65.08h2.56v4.04h-2.56ZM362.77 65.08h2.56v4.04h-2.56ZM365.82 65.08h2.56v4.04h-2.56ZM426.92 65.08h2.56v4.04h-2.56ZM17.55 69.72h2.56v4.04h-2.56ZM69.48 69.72h2.56v4.04h-2.56ZM72.54 69.72h2.56v4.04h-2.56ZM75.59 69.72h2.56v4.04h-2.56ZM118.37 69.72h2.56v4.04h-2.56ZM130.59 69.72h2.56v4.04h-2.56ZM133.64 69.72h2.56v4.04h-2.56ZM136.7 69.72h2.56v4.04h-2.56ZM210.02 69.72h2.56v4.04h-2.56ZM213.07 69.72h2.56v4.04h-2.56ZM216.13 69.72h2.56v4.04h-2.56ZM258.89 69.72h2.56v4.04h-2.56ZM261.95 69.72h2.56v4.04h-2.56ZM265 69.72h2.56v4.04h-2.56ZM268.06 69.72h2.56v4.04h-2.56ZM271.12 69.72h2.56v4.04h-2.56ZM274.17 69.72h2.56v4.04h-2.56ZM277.23 69.72h2.56v4.04h-2.56ZM280.28 69.72h2.56v4.04h-2.56ZM347.49 69.72h2.56v4.04h-2.56ZM353.6 69.72h2.56v4.04h-2.56ZM356.66 69.72h2.56v4.04h-2.56ZM368.88 69.72h2.56v4.04h-2.56ZM371.93 69.72h2.56v4.04h-2.56ZM433.03 69.72h2.56v4.04h-2.56ZM436.09 69.72h2.56v4.04h-2.56ZM439.14 69.72h2.56v4.04h-2.56ZM442.2 69.72h2.56v4.04h-2.56ZM69.48 74.36h2.56v4.04h-2.56ZM72.54 74.36h2.56v4.04h-2.56ZM78.65 74.36h2.56v4.04h-2.56ZM81.7 74.36h2.56v4.04h-2.56ZM87.81 74.36h2.56v4.04h-2.56ZM90.87 74.36h2.56v4.04h-2.56ZM258.89 74.36h2.56v4.04h-2.56ZM261.95 74.36h2.56v4.04h-2.56ZM265 74.36h2.56v4.04h-2.56ZM283.34 74.36h2.56v4.04h-2.56ZM289.45 74.36h2.56v4.04h-2.56ZM292.5 74.36h2.56v4.04h-2.56ZM347.49 74.36h2.56v4.04h-2.56ZM368.88 74.36h2.56v4.04h-2.56ZM374.99 74.36h2.56v4.04h-2.56ZM378.04 74.36h2.56v4.04h-2.56ZM381.1 74.36h2.56v4.04h-2.56ZM384.15 74.36h2.56v4.04h-2.56ZM387.21 74.36h2.56v4.04h-2.56ZM390.26 74.36h2.56v4.04h-2.56ZM433.03 74.36h2.56v4.04h-2.56ZM436.09 74.36h2.56v4.04h-2.56ZM448.31 74.36h2.56v4.04h-2.56ZM451.36 74.36h2.56v4.04h-2.56ZM57.27 79h2.56v4.04h-2.56ZM60.32 79h2.56v4.04h-2.56ZM63.38 79h2.56v4.04h-2.56ZM93.92 79h2.56v4.04h-2.56ZM118.37 79h2.56v4.04h-2.56ZM121.42 79h2.56v4.04h-2.56ZM124.48 79h2.56v4.04h-2.56ZM210.02 79h2.56v4.04h-2.56ZM213.07 79h2.56v4.04h-2.56ZM219.18 79h2.56v4.04h-2.56ZM222.24 79h2.56v4.04h-2.56ZM225.29 79h2.56v4.04h-2.56ZM268.06 79h2.56v4.04h-2.56ZM271.12 79h2.56v4.04h-2.56ZM274.17 79h2.56v4.04h-2.56ZM283.34 79h2.56v4.04h-2.56ZM286.39 79h2.56v4.04h-2.56ZM295.56 79h2.56v4.04h-2.56ZM298.61 79h2.56v4.04h-2.56ZM301.67 79h2.56v4.04h-2.56ZM304.72 79h2.56v4.04h-2.56ZM307.78 79h2.56v4.04h-2.56ZM310.83 79h2.56v4.04h-2.56ZM353.6 79h2.56v4.04h-2.56ZM362.77 79h2.56v4.04h-2.56ZM426.92 79h2.56v4.04h-2.56ZM66.43 83.64h2.56v4.04h-2.56ZM78.65 83.64h2.56v4.04h-2.56ZM81.7 83.64h2.56v4.04h-2.56ZM100.03 83.64h2.56v4.04h-2.56ZM103.09 83.64h2.56v4.04h-2.56ZM106.14 83.64h2.56v4.04h-2.56ZM121.42 83.64h2.56v4.04h-2.56ZM210.02 83.64h2.56v4.04h-2.56ZM228.35 83.64h2.56v4.04h-2.56ZM255.84 83.64h2.56v4.04h-2.56ZM295.56 83.64h2.56v4.04h-2.56ZM313.89 83.64h2.56v4.04h-2.56ZM316.94 83.64h2.56v4.04h-2.56ZM320 83.64h2.56v4.04h-2.56ZM405.54 83.64h2.56v4.04h-2.56ZM460.53 83.64h2.56v4.04h-2.56ZM469.69 83.64h2.56v4.04h-2.56ZM472.75 83.64h2.56v4.04h-2.56ZM109.2 88.28h2.56v4.04h-2.56ZM289.45 88.28h2.56v4.04h-2.56ZM326.11 88.28h2.56v4.04h-2.56ZM347.49 88.28h2.56v4.04h-2.56ZM365.82 88.28h2.56v4.04h-2.56ZM368.88 88.28h2.56v4.04h-2.56ZM374.99 88.28h2.56v4.04h-2.56ZM378.04 88.28h2.56v4.04h-2.56ZM381.1 88.28h2.56v4.04h-2.56ZM384.15 88.28h2.56v4.04h-2.56ZM387.21 88.28h2.56v4.04h-2.56ZM478.86 88.28h2.56v4.04h-2.56ZM66.43 92.92h2.56v4.04h-2.56ZM93.92 92.92h2.56v4.04h-2.56ZM210.02 92.92h2.56v4.04h-2.56ZM213.07 92.92h2.56v4.04h-2.56ZM219.18 92.92h2.56v4.04h-2.56ZM222.24 92.92h2.56v4.04h-2.56ZM255.84 92.92h2.56v4.04h-2.56ZM268.06 92.92h2.56v4.04h-2.56ZM283.34 92.92h2.56v4.04h-2.56ZM295.56 92.92h2.56v4.04h-2.56ZM298.61 92.92h2.56v4.04h-2.56ZM323.05 92.92h2.56v4.04h-2.56ZM329.16 92.92h2.56v4.04h-2.56ZM353.6 92.92h2.56v4.04h-2.56ZM359.71 92.92h2.56v4.04h-2.56ZM426.92 92.92h2.56v4.04h-2.56ZM481.91 92.92h2.56v4.04h-2.56ZM484.97 92.92h2.56v4.04h-2.56ZM60.32 97.56h2.56v4.04h-2.56ZM69.48 97.56h2.56v4.04h-2.56ZM84.76 97.56h2.56v4.04h-2.56ZM87.81 97.56h2.56v4.04h-2.56ZM109.2 97.56h2.56v4.04h-2.56ZM121.42 97.56h2.56v4.04h-2.56ZM142.81 97.56h2.56v4.04h-2.56ZM219.18 97.56h2.56v4.04h-2.56ZM225.29 97.56h2.56v4.04h-2.56ZM240.57 97.56h2.56v4.04h-2.56ZM295.56 97.56h2.56v4.04h-2.56ZM301.67 97.56h2.56v4.04h-2.56ZM365.82 97.56h2.56v4.04h-2.56ZM374.99 97.56h2.56v4.04h-2.56ZM393.32 97.56h2.56v4.04h-2.56ZM396.37 97.56h2.56v4.04h-2.56ZM145.86 102.2h2.56v4.04h-2.56ZM393.32 102.2h2.56v4.04h-2.56ZM411.65 102.2h2.56v4.04h-2.56ZM451.36 102.2h2.56v4.04h-2.56ZM78.65 106.84h2.56v4.04h-2.56ZM90.87 106.84h2.56v4.04h-2.56ZM96.98 106.84h2.56v4.04h-2.56ZM289.45 106.84h2.56v4.04h-2.56ZM353.6 106.84h2.56v4.04h-2.56ZM362.77 106.84h2.56v4.04h-2.56ZM399.43 106.84h2.56v4.04h-2.56ZM475.8 106.84h2.56v4.04h-2.56ZM93.92 111.48h2.56v4.04h-2.56ZM100.03 111.48h2.56v4.04h-2.56ZM130.59 111.48h2.56v4.04h-2.56ZM304.72 111.48h2.56v4.04h-2.56ZM481.91 111.48h2.56v4.04h-2.56ZM494.13 111.48h2.56v4.04h-2.56ZM75.59 116.12h2.56v4.04h-2.56ZM96.98 116.12h2.56v4.04h-2.56ZM103.09 116.12h2.56v4.04h-2.56ZM106.14 116.12h2.56v4.04h-2.56ZM112.25 116.12h2.56v4.04h-2.56ZM228.35 116.12h2.56v4.04h-2.56ZM231.4 116.12h2.56v4.04h-2.56ZM316.94 116.12h2.56v4.04h-2.56ZM414.7 116.12h2.56v4.04h-2.56ZM497.19 116.12h2.56v4.04h-2.56ZM23.66 120.76h2.56v4.04h-2.56ZM222.24 120.76h2.56v4.04h-2.56ZM359.71 120.76h2.56v4.04h-2.56ZM378.04 120.76h2.56v4.04h-2.56ZM96.98 125.4h2.56v4.04h-2.56ZM210.02 125.4h2.56v4.04h-2.56ZM228.35 125.4h2.56v4.04h-2.56ZM231.4 125.4h2.56v4.04h-2.56ZM365.82 125.4h2.56v4.04h-2.56ZM396.37 125.4h2.56v4.04h-2.56ZM78.65 130.04h2.56v4.04h-2.56ZM124.48 130.04h2.56v4.04h-2.56ZM213.07 130.04h2.56v4.04h-2.56ZM466.64 130.04h2.56v4.04h-2.56ZM100.03 134.68h2.56v4.04h-2.56ZM283.34 134.68h2.56v4.04h-2.56ZM359.71 134.68h2.56v4.04h-2.56ZM378.04 134.68h2.56v4.04h-2.56ZM497.19 134.68h2.56v4.04h-2.56ZM313.89 139.32h2.56v4.04h-2.56ZM332.22 139.32h2.56v4.04h-2.56ZM335.27 139.32h2.56v4.04h-2.56ZM393.32 139.32h2.56v4.04h-2.56ZM433.03 139.32h2.56v4.04h-2.56ZM497.19 139.32h2.56v4.04h-2.56ZM66.43 143.96h2.56v4.04h-2.56ZM100.03 143.96h2.56v4.04h-2.56ZM228.35 143.96h2.56v4.04h-2.56ZM426.92 143.96h2.56v4.04h-2.56ZM304.72 148.6h2.56v4.04h-2.56ZM329.16 148.6h2.56v4.04h-2.56ZM488.02 148.6h2.56v4.04h-2.56ZM500.24 148.6h2.56v4.04h-2.56ZM503.3 148.6h2.56v4.04h-2.56ZM216.13 153.24h2.56v4.04h-2.56ZM359.71 153.24h2.56v4.04h-2.56ZM393.32 153.24h2.56v4.04h-2.56ZM155.03 157.88h2.56v4.04h-2.56ZM237.51 157.88h2.56v4.04h-2.56ZM243.62 157.88h2.56v4.04h-2.56ZM246.68 157.88h2.56v4.04h-2.56ZM344.44 157.88h2.56v4.04h-2.56ZM469.69 157.88h2.56v4.04h-2.56ZM210.02 162.52h2.56v4.04h-2.56ZM213.07 162.52h2.56v4.04h-2.56ZM222.24 162.52h2.56v4.04h-2.56ZM292.5 162.52h2.56v4.04h-2.56ZM396.37 162.52h2.56v4.04h-2.56ZM29.77 167.16h2.56v4.04h-2.56ZM371.93 167.16h2.56v4.04h-2.56ZM433.03 167.16h2.56v4.04h-2.56ZM158.08 171.8h2.56v4.04h-2.56ZM320 171.8h2.56v4.04h-2.56ZM506.35 176.44h2.56v4.04h-2.56ZM93.92 181.08h2.56v4.04h-2.56ZM298.61 181.08h2.56v4.04h-2.56ZM103.09 185.72h2.56v4.04h-2.56ZM32.83 190.36h2.56v4.04h-2.56ZM121.42 190.36h2.56v4.04h-2.56ZM448.31 190.36h2.56v4.04h-2.56ZM161.14 195h2.56v4.04h-2.56ZM268.06 199.64h2.56v4.04h-2.56ZM60.32 204.28h2.56v4.04h-2.56ZM393.32 204.28h2.56v4.04h-2.56ZM374.99 208.92h2.56v4.04h-2.56ZM378.04 208.92h2.56v4.04h-2.56ZM35.88 218.2h2.56v4.04h-2.56ZM335.27 222.84h2.56v4.04h-2.56ZM93.92 232.12h2.56v4.04h-2.56ZM118.37 246.04h2.56v4.04h-2.56ZM268.06 250.68h2.56v4.04h-2.56ZM38.94 259.96h2.56v4.04h-2.56ZM66.43 264.6h2.56v4.04h-2.56ZM371.93 269.24h2.56v4.04h-2.56ZM332.22 273.88h2.56v4.04h-2.56ZM469.69 278.52h2.56v4.04h-2.56ZM148.92 283.16h2.56v4.04h-2.56ZM106.14 306.36h2.56v4.04h-2.56Z"/>
<g font-size="2.5" fill="#8c8c8c"><text x="15.6" y="58.72" text-anchor="end">DNMT3A</text><text x="15.6" y="63.36" text-anchor="end">NPM1</text><text x="15.6" y="68" text-anchor="end">FLT3_ITD</text><text x="15.6" y="72.64" text-anchor="end">TET2</text><text x="15.6" y="77.28" text-anchor="end">IDH2</text><text x="15.6" y="81.92" text-anchor="end">ASXL1</text><text x="15.6" y="86.56" text-anchor="end">RUNX1</text><text x="15.6" y="91.2" text-anchor="end">NRAS</text><text x="15.6" y="95.84" text-anchor="end">IDH1</text><text x="15.6" y="100.48" text-anchor="end">CEBPA</text><text x="15.6" y="105.12" text-anchor="end">WT1</text><text x="15.6" y="109.76" text-anchor="end">TP53</text><text x="15.6" y="114.4" text-anchor="end">KRAS</text><text x="15.6" y="119.04" text-anchor="end">PTPN11</text><text x="15.6" y="123.68" text-anchor="end">SRSF2</text><text x="15.6" y="128.32" text-anchor="end">FLT3_TKD</text><text x="15.6" y="132.96" text-anchor="end">STAG2</text><text x="15.6" y="137.6" text-anchor="end">BCOR</text><text x="15.6" y="142.24" text-anchor="end">U2AF1</text><text x="15.6" y="146.88" text-anchor="end">EZH2</text><text x="15.6" y="151.52" text-anchor="end">SF3B1</text><text x="15.6" y="156.16" text-anchor="end">KIT</text><text x="15.6" y="160.8" text-anchor="end">CBL</text><text x="15.6" y="165.44" text-anchor="end">GATA2</text><text x="15.6" y="170.08" text-anchor="end">PHF6</text><text x="15.6" y="174.72" text-anchor="end">CSF3R</text><text x="15.6" y="179.36" text-anchor="end">JAK2</text><text x="15.6" y="184" text-anchor="end">SETBP1</text><text x="15.6" y="188.64" text-anchor="end">MPL</text><text x="15.6" y="193.28" text-anchor="end">ETV6</text><text x="15.6" y="197.92" text-anchor="end">BCORL1</text><text x="15.6" y="202.56" text-anchor="end">SMC3</text><text x="15.6" y="207.2" text-anchor="end">RAD21</text><text x="15.6" y="211.84" text-anchor="end">SMC1A</text><text x="15.6" y="216.48" text-anchor="end">ZRSR2</text><text x="15.6" y="221.12" text-anchor="end">CALR</text><text x="15.6" y="225.76" text-anchor="end">KMT2A</text><text x="15.6" y="230.4" text-anchor="end">NOTCH1</text><text x="15.6" y="235.04" text-anchor="end">PDGFRA</text><text x="15.6" y="239.68" text-anchor="end">CUX1</text><text x="15.6" y="244.32" text-anchor="end">IKZF1</text><text x="15.6" y="248.96" text-anchor="end">CREBBP</text><text x="15.6" y="253.6" text-anchor="end">EP300</text><text x="15.6" y="258.24" text-anchor="end">FBXW7</text><text x="15.6" y="262.88" text-anchor="end">GNAS</text><text x="15.6" y="267.52" text-anchor="end">ATRX</text><text x="15.6" y="272.16" text-anchor="end">BRAF</text><text x="15.6" y="276.8" text-anchor="end">HRAS</text><text x="15.6" y="281.44" text-anchor="end">MYD88</text><text x="15.6" y="286.08" text-anchor="end">PTEN</text><text x="15.6" y="290.72" text-anchor="end">CDKN2A</text><text x="15.6" y="295.36" text-anchor="end">STAT3</text><text x="15.6" y="300" text-anchor="end">NF1</text><text x="15.6" y="304.64" text-anchor="end">DDX41</text><text x="15.6" y="309.28" text-anchor="end">PPM1D</text><text x="15.6" y="313.92" text-anchor="end">CHEK2</text><text x="15.6" y="318.56" text-anchor="end">ATM</text><text x="15.6" y="323.2" text-anchor="end">MLL</text><text x="15.6" y="327.84" text-anchor="end">SH2B3</text><text x="15.6" y="332.48" text-anchor="end">BRCC3</text></g>
<rect x="17.3" y="337.4" width="498" height="5" fill="#ece6ec"/><rect x="17.3" y="337.4" width="15.9" height="5" fill="#e8b90e"/><rect x="36.7" y="337.4" width="3.4" height="5" fill="#e8b90e"/><rect x="46.4" y="337.4" width="3.8" height="5" fill="#e8b90e"/><rect x="51.9" y="337.4" width="7.8" height="5" fill="#e8b90e"/><rect x="65.4" y="337.4" width="9.3" height="5" fill="#e8b90e"/><rect x="77.9" y="337.4" width="15.8" height="5" fill="#e8b90e"/><rect x="97.5" y="337.4" width="6.2" height="5" fill="#e8b90e"/><rect x="106.6" y="337.4" width="3.5" height="5" fill="#e8b90e"/><rect x="119.6" y="337.4" width="6.9" height="5" fill="#e8b90e"/><rect x="131.7" y="337.4" width="16.4" height="5" fill="#e8b90e"/><rect x="151.6" y="337.4" width="6.1" height="5" fill="#e8b90e"/><rect x="166.3" y="337.4" width="4.3" height="5" fill="#e8b90e"/><rect x="170" y="337.4" width="1.7" height="5" fill="#e8b90e"/><rect x="176.6" y="337.4" width="3.4" height="5" fill="#e8b90e"/><rect x="183" y="337.4" width="4" height="5" fill="#e8b90e"/><rect x="189.4" y="337.4" width="13.5" height="5" fill="#e8b90e"/><rect x="205.5" y="337.4" width="13.8" height="5" fill="#e8b90e"/><rect x="224.5" y="337.4" width="22.5" height="5" fill="#e8b90e"/><rect x="250.4" y="337.4" width="9.8" height="5" fill="#e8b90e"/><rect x="263.3" y="337.4" width="15.9" height="5" fill="#e8b90e"/><rect x="285.3" y="337.4" width="3.4" height="5" fill="#e8b90e"/><rect x="291.7" y="337.4" width="6.6" height="5" fill="#e8b90e"/><rect x="301.4" y="337.4" width="3.8" height="5" fill="#e8b90e"/><rect x="306.9" y="337.4" width="3.8" height="5" fill="#e8b90e"/><rect x="313.8" y="337.4" width="6.6" height="5" fill="#e8b90e"/><rect x="323.3" y="337.4" width="6.1" height="5" fill="#e8b90e"/><rect x="332.9" y="337.4" width="3.4" height="5" fill="#e8b90e"/><rect x="352.1" y="337.4" width="11.3" height="5" fill="#e8b90e"/><rect x="371.1" y="337.4" width="3.5" height="5" fill="#e8b90e"/><rect x="396.2" y="337.4" width="3.5" height="5" fill="#e8b90e"/><rect x="411.8" y="337.4" width="4.3" height="5" fill="#e8b90e"/><rect x="421.7" y="337.4" width="3.9" height="5" fill="#e8b90e"/><rect x="432" y="337.4" width="3.6" height="5" fill="#e8b90e"/><rect x="444.2" y="337.4" width="3.7" height="5" fill="#e8b90e"/><rect x="469.8" y="337.4" width="4.2" height="5" fill="#e8b90e"/><rect x="491.7" y="337.4" width="8.3" height="5" fill="#e8b90e"/><rect x="501.8" y="337.4" width="3.6" height="5" fill="#e8b90e"/><rect x="511.8" y="337.4" width="3.2" height="5" fill="#e8b90e"/><text x="15.6" y="341" text-anchor="end" font-size="2.9" fill="#6a6a6a">Intensive</text>
<path d="M206 351H211L206 359.7Z" fill="#2f5a7c"/>
<text x="216.5" y="359.2" font-size="9.8" fill="#000">Diagnosis</text>
<path d="M287.4 351.7V360.5H282.8Z" fill="#c8504c"/>
<text x="295.3" y="359.4" font-size="9.8" fill="#000">Relapse</text>
<text x="31.3" y="388.4" font-size="17.3" font-weight="bold" fill="#000">Figure 2</text>
<text x="127.2" y="394.2" font-size="18" font-weight="bold" fill="#111">IT</text>
<text x="380" y="391.9" font-size="17" font-weight="bold" fill="#111">LIT</text>
<text x="5.3" y="448" font-size="8" font-weight="bold" fill="#000" stroke="#000" stroke-width="0.12">Diagnosis</text>
<text x="223.6" y="447.6" font-size="8" font-weight="bold" fill="#000" stroke="#000" stroke-width="0.12">Relapse</text>
<text x="260" y="432.7" font-size="8" font-weight="bold" fill="#000" stroke="#000" stroke-width="0.12">Diagnosis</text>
<text x="480" y="432.6" font-size="8" font-weight="bold" fill="#000" stroke="#000" stroke-width="0.12">Relapse</text>
<g fill="#2a8e56" fill-opacity="0.78" stroke="#3a3a3a" stroke-opacity="0.4" stroke-width="0.4"><path d="M42.3 458.1C71.18 458.1 89.42 402.2 118.3 402.2L118.3 403.46C89.42 403.46 71.18 459.45 42.3 459.45Z"/><path d="M42.3 463.5C71.18 463.5 89.42 403.46 118.3 403.46L118.3 405.2C89.42 405.2 71.18 465.35 42.3 465.35Z"/><path d="M42.3 482C71.18 482 89.42 405.2 118.3 405.2L118.3 411.1C89.42 411.1 71.18 488.3 42.3 488.3Z"/><path d="M42.3 492.5C71.18 492.5 89.42 411.1 118.3 411.1L118.3 417.62C89.42 417.62 71.18 499.46 42.3 499.46Z"/><path d="M42.3 501.2C71.18 501.2 89.42 417.62 118.3 417.62L118.3 419.22C89.42 419.22 71.18 502.91 42.3 502.91Z"/><path d="M42.3 506.9C71.18 506.9 89.42 419.22 118.3 419.22L118.3 422.52C89.42 422.52 71.18 510.42 42.3 510.42Z"/><path d="M42.3 511.3C71.18 511.3 89.42 422.52 118.3 422.52L118.3 428.33C89.42 428.33 71.18 517.5 42.3 517.5Z"/><path d="M42.3 517.5C71.18 517.5 89.42 428.33 118.3 428.33L118.3 431.03C89.42 431.03 71.18 520.38 42.3 520.38Z"/><path d="M42.3 522.3C71.18 522.3 89.42 431.03 118.3 431.03L118.3 433.47C89.42 433.47 71.18 524.9 42.3 524.9Z"/><path d="M42.3 527.5C71.18 527.5 89.42 433.47 118.3 433.47L118.3 435.45C89.42 435.45 71.18 529.62 42.3 529.62Z"/><path d="M42.3 538.1C71.18 538.1 89.42 435.45 118.3 435.45L118.3 445.72C89.42 445.72 71.18 549.06 42.3 549.06Z"/><path d="M42.3 551.8C71.18 551.8 89.42 445.72 118.3 445.72L118.3 449.19C89.42 449.19 71.18 555.5 42.3 555.5Z"/><path d="M42.3 555.5C71.18 555.5 89.42 449.19 118.3 449.19L118.3 450.2C89.42 450.2 71.18 556.58 42.3 556.58Z"/><path d="M42.3 562.7C71.18 562.7 89.42 450.2 118.3 450.2L118.3 451.28C89.42 451.28 71.18 563.85 42.3 563.85Z"/><path d="M42.3 574.2C71.18 574.2 89.42 451.28 118.3 451.28L118.3 452.5C89.42 452.5 71.18 575.5 42.3 575.5Z"/></g><g fill="#3d6995" fill-opacity="0.75" stroke="#3a3a3a" stroke-opacity="0.4" stroke-width="0.4"><path d="M42.3 454.2C71.18 454.2 89.42 452.5 118.3 452.5L118.3 456.58C89.42 456.58 71.18 458.1 42.3 458.1Z"/><path d="M42.3 459.45C71.18 459.45 89.42 456.58 118.3 456.58L118.3 460.82C89.42 460.82 71.18 463.5 42.3 463.5Z"/><path d="M42.3 465.35C71.18 465.35 89.42 460.82 118.3 460.82L118.3 478.25C89.42 478.25 71.18 482 42.3 482Z"/><path d="M42.3 488.3C71.18 488.3 89.42 478.25 118.3 478.25L118.3 482.65C89.42 482.65 71.18 492.5 42.3 492.5Z"/><path d="M42.3 499.46C71.18 499.46 89.42 482.65 118.3 482.65L118.3 484.47C89.42 484.47 71.18 501.2 42.3 501.2Z"/><path d="M42.3 502.91C71.18 502.91 89.42 484.47 118.3 484.47L118.3 488.65C89.42 488.65 71.18 506.9 42.3 506.9Z"/><path d="M42.3 510.42C71.18 510.42 89.42 488.65 118.3 488.65L118.3 489.57C89.42 489.57 71.18 511.3 42.3 511.3Z"/><path d="M42.3 520.38C71.18 520.38 89.42 489.57 118.3 489.57L118.3 491.58C89.42 491.58 71.18 522.3 42.3 522.3Z"/><path d="M42.3 524.9C71.18 524.9 89.42 491.58 118.3 491.58L118.3 494.3C89.42 494.3 71.18 527.5 42.3 527.5Z"/><path d="M42.3 529.62C71.18 529.62 89.42 494.3 118.3 494.3L118.3 503.18C89.42 503.18 71.18 538.1 42.3 538.1Z"/><path d="M42.3 549.06C71.18 549.06 89.42 503.18 118.3 503.18L118.3 506.05C89.42 506.05 71.18 551.8 42.3 551.8Z"/><path d="M42.3 556.58C71.18 556.58 89.42 506.05 118.3 506.05L118.3 512.45C89.42 512.45 71.18 562.7 42.3 562.7Z"/><path d="M42.3 563.85C71.18 563.85 89.42 512.45 118.3 512.45L118.3 523.29C89.42 523.29 71.18 574.2 42.3 574.2Z"/><path d="M42.3 575.5C71.18 575.5 89.42 523.29 118.3 523.29L118.3 531.03C89.42 531.03 71.18 582.9 42.3 582.9Z"/><path d="M42.3 582.9C71.18 582.9 89.42 531.03 118.3 531.03L118.3 534.8C89.42 534.8 71.18 586.5 42.3 586.5Z"/></g><g fill="#3d6995" fill-opacity="0.75" stroke="#3a3a3a" stroke-opacity="0.4" stroke-width="0.4"><path d="M153.3 452.5C179.67 452.5 196.33 452.4 222.7 452.4L222.7 457.54C196.33 457.54 179.67 457.67 153.3 457.67Z"/><path d="M153.3 457.67C179.67 457.67 196.33 460.3 222.7 460.3L222.7 463.55C196.33 463.55 179.67 460.95 153.3 460.95Z"/><path d="M153.3 460.95C179.67 460.95 196.33 466.8 222.7 466.8L222.7 484.64C196.33 484.64 179.67 478.93 153.3 478.93Z"/><path d="M153.3 478.93C179.67 478.93 196.33 489.1 222.7 489.1L222.7 493.42C196.33 493.42 179.67 483.28 153.3 483.28Z"/><path d="M153.3 483.28C179.67 483.28 196.33 496.3 222.7 496.3L222.7 498.04C196.33 498.04 179.67 485.03 153.3 485.03Z"/><path d="M153.3 485.03C179.67 485.03 196.33 499.2 222.7 499.2L222.7 502.68C196.33 502.68 179.67 488.54 153.3 488.54Z"/><path d="M153.3 488.54C179.67 488.54 196.33 505 222.7 505L222.7 506.74C196.33 506.74 179.67 490.29 153.3 490.29Z"/><path d="M153.3 490.29C179.67 490.29 196.33 507.9 222.7 507.9L222.7 509.64C196.33 509.64 179.67 492.05 153.3 492.05Z"/><path d="M153.3 492.05C179.67 492.05 196.33 510.8 222.7 510.8L222.7 511.94C196.33 511.94 179.67 493.19 153.3 493.19Z"/><path d="M153.3 493.19C179.67 493.19 196.33 512.7 222.7 512.7L222.7 514.44C196.33 514.44 179.67 494.95 153.3 494.95Z"/><path d="M153.3 494.95C179.67 494.95 196.33 515.6 222.7 515.6L222.7 524.72C196.33 524.72 179.67 504.14 153.3 504.14Z"/><path d="M153.3 504.14C179.67 504.14 196.33 525.2 222.7 525.2L222.7 526.06C196.33 526.06 179.67 505 153.3 505Z"/><path d="M153.3 505C179.67 505 196.33 529.5 222.7 529.5L222.7 533.01C196.33 533.01 179.67 508.54 153.3 508.54Z"/><path d="M153.3 508.54C179.67 508.54 196.33 533.4 222.7 533.4L222.7 538.8C196.33 538.8 179.67 513.98 153.3 513.98Z"/><path d="M153.3 513.98C179.67 513.98 196.33 542.4 222.7 542.4L222.7 554.16C196.33 554.16 179.67 525.83 153.3 525.83Z"/><path d="M153.3 525.83C179.67 525.83 196.33 559.2 222.7 559.2L222.7 566.84C196.33 566.84 179.67 533.53 153.3 533.53Z"/><path d="M153.3 533.53C179.67 533.53 196.33 578.3 222.7 578.3L222.7 579.56C196.33 579.56 179.67 534.8 153.3 534.8Z"/></g><g fill="#ba3137" fill-opacity="0.8" stroke="#3a3a3a" stroke-opacity="0.4" stroke-width="0.4"><path d="M153.3 534.8C179.67 534.8 196.33 457.54 222.7 457.54L222.7 460.3C196.33 460.3 179.67 537.52 153.3 537.52Z"/><path d="M153.3 537.52C179.67 537.52 196.33 463.55 222.7 463.55L222.7 466.8C196.33 466.8 179.67 540.72 153.3 540.72Z"/><path d="M153.3 540.72C179.67 540.72 196.33 484.64 222.7 484.64L222.7 489.1C196.33 489.1 179.67 545.11 153.3 545.11Z"/><path d="M153.3 545.11C179.67 545.11 196.33 493.42 222.7 493.42L222.7 496.3C196.33 496.3 179.67 547.95 153.3 547.95Z"/><path d="M153.3 547.95C179.67 547.95 196.33 498.04 222.7 498.04L222.7 499.2C196.33 499.2 179.67 549.09 153.3 549.09Z"/><path d="M153.3 549.09C179.67 549.09 196.33 502.68 222.7 502.68L222.7 505C196.33 505 179.67 551.37 153.3 551.37Z"/><path d="M153.3 551.37C179.67 551.37 196.33 506.74 222.7 506.74L222.7 507.9C196.33 507.9 179.67 552.51 153.3 552.51Z"/><path d="M153.3 552.51C179.67 552.51 196.33 509.64 222.7 509.64L222.7 510.8C196.33 510.8 179.67 553.65 153.3 553.65Z"/><path d="M153.3 553.65C179.67 553.65 196.33 511.94 222.7 511.94L222.7 512.7C196.33 512.7 179.67 554.4 153.3 554.4Z"/><path d="M153.3 554.4C179.67 554.4 196.33 514.44 222.7 514.44L222.7 515.6C196.33 515.6 179.67 555.54 153.3 555.54Z"/><path d="M153.3 555.54C179.67 555.54 196.33 524.72 222.7 524.72L222.7 525.2C196.33 525.2 179.67 556.02 153.3 556.02Z"/><path d="M153.3 556.02C179.67 556.02 196.33 526.06 222.7 526.06L222.7 529.5C196.33 529.5 179.67 559.4 153.3 559.4Z"/><path d="M153.3 559.4C179.67 559.4 196.33 533.01 222.7 533.01L222.7 533.4C196.33 533.4 179.67 559.79 153.3 559.79Z"/><path d="M153.3 559.79C179.67 559.79 196.33 538.8 222.7 538.8L222.7 542.4C196.33 542.4 179.67 563.33 153.3 563.33Z"/><path d="M153.3 563.33C179.67 563.33 196.33 554.16 222.7 554.16L222.7 559.2C196.33 559.2 179.67 568.29 153.3 568.29Z"/><path d="M153.3 568.29C179.67 568.29 196.33 566.84 222.7 566.84L222.7 578.3C196.33 578.3 179.67 579.57 153.3 579.57Z"/><path d="M153.3 579.57C179.67 579.57 196.33 579.56 222.7 579.56L222.7 586.7C196.33 586.7 179.67 586.6 153.3 586.6Z"/></g><rect x="3.3" y="454.2" width="39" height="3.9" fill="#d0cfd0" stroke="#5a5a5a" stroke-width="0.35"/><rect x="3.3" y="458.1" width="39" height="5.4" fill="#888888" stroke="#5a5a5a" stroke-width="0.35"/><rect x="3.3" y="463.5" width="39" height="18.5" fill="#d0cfd0" stroke="#5a5a5a" stroke-width="0.35"/><rect x="3.3" y="482" width="39" height="10.5" fill="#888888" stroke="#5a5a5a" stroke-width="0.35"/><rect x="3.3" y="492.5" width="39" height="8.7" fill="#d0cfd0" stroke="#5a5a5a" stroke-width="0.35"/><rect x="3.3" y="501.2" width="39" height="5.7" fill="#888888" stroke="#5a5a5a" stroke-width="0.35"/><rect x="3.3" y="506.9" width="39" height="4.4" fill="#d0cfd0" stroke="#5a5a5a" stroke-width="0.35"/><rect x="3.3" y="511.3" width="39" height="6.2" fill="#888888" stroke="#5a5a5a" stroke-width="0.35"/><rect x="3.3" y="517.5" width="39" height="4.8" fill="#d0cfd0" stroke="#5a5a5a" stroke-width="0.35"/><rect x="3.3" y="522.3" width="39" height="5.2" fill="#888888" stroke="#5a5a5a" stroke-width="0.35"/><rect x="3.3" y="527.5" width="39" height="10.6" fill="#d0cfd0" stroke="#5a5a5a" stroke-width="0.35"/><rect x="3.3" y="538.1" width="39" height="13.7" fill="#888888" stroke="#5a5a5a" stroke-width="0.35"/><rect x="3.3" y="551.8" width="39" height="3.7" fill="#d0cfd0" stroke="#5a5a5a" stroke-width="0.35"/><rect x="3.3" y="555.5" width="39" height="7.2" fill="#888888" stroke="#5a5a5a" stroke-width="0.35"/><rect x="3.3" y="562.7" width="39" height="11.5" fill="#d0cfd0" stroke="#5a5a5a" stroke-width="0.35"/><rect x="3.3" y="574.2" width="39" height="8.7" fill="#888888" stroke="#5a5a5a" stroke-width="0.35"/><rect x="3.3" y="582.9" width="39" height="3.6" fill="#d0cfd0" stroke="#5a5a5a" stroke-width="0.35"/><rect x="17.55" y="454.15" width="10.5" height="4" rx="1" fill="#ffffff" stroke="#6a6a6a" stroke-width="0.45"/><text x="22.8" y="456.95" text-anchor="middle" font-size="2.6" fill="#444">IDH1</text><rect x="17.55" y="458.8" width="10.5" height="4" rx="1" fill="#ffffff" stroke="#6a6a6a" stroke-width="0.45"/><text x="22.8" y="461.6" text-anchor="middle" font-size="2.6" fill="#444">IDH2</text><rect x="16.05" y="470.75" width="13.5" height="4" rx="1" fill="#ffffff" stroke="#6a6a6a" stroke-width="0.45"/><text x="22.8" y="473.55" text-anchor="middle" font-size="2.6" fill="#444">DNMT3A</text><rect x="15.8" y="485.25" width="14" height="4" rx="1" fill="#ffffff" stroke="#6a6a6a" stroke-width="0.45"/><text x="22.8" y="488.05" text-anchor="middle" font-size="2.6" fill="#444">FLT3_ITD</text><rect x="15.8" y="494.85" width="14" height="4" rx="1" fill="#ffffff" stroke="#6a6a6a" stroke-width="0.45"/><text x="22.8" y="497.65" text-anchor="middle" font-size="2.6" fill="#444">FLT3_TKD</text><rect x="17.55" y="502.05" width="10.5" height="4" rx="1" fill="#ffffff" stroke="#6a6a6a" stroke-width="0.45"/><text x="22.8" y="504.85" text-anchor="middle" font-size="2.6" fill="#444">TET2</text><rect x="17.55" y="507.1" width="10.5" height="4" rx="1" fill="#ffffff" stroke="#6a6a6a" stroke-width="0.45"/><text x="22.8" y="509.9" text-anchor="middle" font-size="2.6" fill="#444">NRAS</text><rect x="18.3" y="512.4" width="9" height="4" rx="1" fill="#ffffff" stroke="#6a6a6a" stroke-width="0.45"/><text x="22.8" y="515.2" text-anchor="middle" font-size="2.6" fill="#444">KIT</text><rect x="16.8" y="517.9" width="12" height="4" rx="1" fill="#ffffff" stroke="#6a6a6a" stroke-width="0.45"/><text x="22.8" y="520.7" text-anchor="middle" font-size="2.6" fill="#444">RUNX1</text><rect x="18.3" y="522.9" width="9" height="4" rx="1" fill="#ffffff" stroke="#6a6a6a" stroke-width="0.45"/><text x="22.8" y="525.7" text-anchor="middle" font-size="2.6" fill="#444">WT1</text><rect x="16.8" y="530.8" width="12" height="4" rx="1" fill="#ffffff" stroke="#6a6a6a" stroke-width="0.45"/><text x="22.8" y="533.6" text-anchor="middle" font-size="2.6" fill="#444">ASXL1</text><rect x="17.55" y="542.95" width="10.5" height="4" rx="1" fill="#ffffff" stroke="#6a6a6a" stroke-width="0.45"/><text x="22.8" y="545.75" text-anchor="middle" font-size="2.6" fill="#444">NPM1</text><rect x="16.8" y="551.65" width="12" height="4" rx="1" fill="#ffffff" stroke="#6a6a6a" stroke-width="0.45"/><text x="22.8" y="554.45" text-anchor="middle" font-size="2.6" fill="#444">CEBPA</text><rect x="16.05" y="557.1" width="13.5" height="4" rx="1" fill="#ffffff" stroke="#6a6a6a" stroke-width="0.45"/><text x="22.8" y="559.9" text-anchor="middle" font-size="2.6" fill="#444">PTPN11</text><rect x="17.55" y="566.45" width="10.5" height="4" rx="1" fill="#ffffff" stroke="#6a6a6a" stroke-width="0.45"/><text x="22.8" y="569.25" text-anchor="middle" font-size="2.6" fill="#444">NPM1</text><rect x="17.55" y="576.55" width="10.5" height="4" rx="1" fill="#ffffff" stroke="#6a6a6a" stroke-width="0.45"/><text x="22.8" y="579.35" text-anchor="middle" font-size="2.6" fill="#444">KRAS</text><rect x="17.55" y="582.7" width="10.5" height="4" rx="1" fill="#ffffff" stroke="#6a6a6a" stroke-width="0.45"/><text x="22.8" y="585.5" text-anchor="middle" font-size="2.6" fill="#444">TP53</text><rect x="222.7" y="452.4" width="34.2" height="7.9" fill="#d0cfd0" stroke="#5a5a5a" stroke-width="0.35"/><rect x="222.7" y="460.3" width="34.2" height="6.5" fill="#888888" stroke="#5a5a5a" stroke-width="0.35"/><rect x="222.7" y="466.8" width="34.2" height="22.3" fill="#d0cfd0" stroke="#5a5a5a" stroke-width="0.35"/><rect x="222.7" y="489.1" width="34.2" height="7.2" fill="#888888" stroke="#5a5a5a" stroke-width="0.35"/><rect x="222.7" y="496.3" width="34.2" height="2.9" fill="#d0cfd0" stroke="#5a5a5a" stroke-width="0.35"/><rect x="222.7" y="499.2" width="34.2" height="5.8" fill="#888888" stroke="#5a5a5a" stroke-width="0.35"/><rect x="222.7" y="505" width="34.2" height="2.9" fill="#d0cfd0" stroke="#5a5a5a" stroke-width="0.35"/><rect x="222.7" y="507.9" width="34.2" height="2.9" fill="#888888" stroke="#5a5a5a" stroke-width="0.35"/><rect x="222.7" y="510.8" width="34.2" height="1.9" fill="#d0cfd0" stroke="#5a5a5a" stroke-width="0.35"/><rect x="222.7" y="512.7" width="34.2" height="2.9" fill="#888888" stroke="#5a5a5a" stroke-width="0.35"/><rect x="222.7" y="515.6" width="34.2" height="9.6" fill="#d0cfd0" stroke="#5a5a5a" stroke-width="0.35"/><rect x="222.7" y="525.2" width="34.2" height="4.3" fill="#888888" stroke="#5a5a5a" stroke-width="0.35"/><rect x="222.7" y="529.5" width="34.2" height="3.9" fill="#d0cfd0" stroke="#5a5a5a" stroke-width="0.35"/><rect x="222.7" y="533.4" width="34.2" height="9" fill="#888888" stroke="#5a5a5a" stroke-width="0.35"/><rect x="222.7" y="542.4" width="34.2" height="16.8" fill="#d0cfd0" stroke="#5a5a5a" stroke-width="0.35"/><rect x="222.7" y="559.2" width="34.2" height="19.1" fill="#888888" stroke="#5a5a5a" stroke-width="0.35"/><rect x="222.7" y="578.3" width="34.2" height="8.4" fill="#d0cfd0" stroke="#5a5a5a" stroke-width="0.35"/><rect x="234.55" y="454.35" width="10.5" height="4" rx="1" fill="#ffffff" stroke="#6a6a6a" stroke-width="0.45"/><text x="239.8" y="457.15" text-anchor="middle" font-size="2.6" fill="#444">IDH1</text><rect x="234.55" y="461.55" width="10.5" height="4" rx="1" fill="#ffffff" stroke="#6a6a6a" stroke-width="0.45"/><text x="239.8" y="464.35" text-anchor="middle" font-size="2.6" fill="#444">IDH2</text><rect x="233.05" y="475.95" width="13.5" height="4" rx="1" fill="#ffffff" stroke="#6a6a6a" stroke-width="0.45"/><text x="239.8" y="478.75" text-anchor="middle" font-size="2.6" fill="#444">DNMT3A</text><rect x="232.8" y="490.7" width="14" height="4" rx="1" fill="#ffffff" stroke="#6a6a6a" stroke-width="0.45"/><text x="239.8" y="493.5" text-anchor="middle" font-size="2.6" fill="#444">FLT3_ITD</text><rect x="232.8" y="495.75" width="14" height="4" rx="1" fill="#ffffff" stroke="#6a6a6a" stroke-width="0.45"/><text x="239.8" y="498.55" text-anchor="middle" font-size="2.6" fill="#444">FLT3_TKD</text><rect x="234.55" y="500.1" width="10.5" height="4" rx="1" fill="#ffffff" stroke="#6a6a6a" stroke-width="0.45"/><text x="239.8" y="502.9" text-anchor="middle" font-size="2.6" fill="#444">TET2</text><rect x="234.55" y="504.45" width="10.5" height="4" rx="1" fill="#ffffff" stroke="#6a6a6a" stroke-width="0.45"/><text x="239.8" y="507.25" text-anchor="middle" font-size="2.6" fill="#444">NRAS</text><rect x="235.3" y="507.35" width="9" height="4" rx="1" fill="#ffffff" stroke="#6a6a6a" stroke-width="0.45"/><text x="239.8" y="510.15" text-anchor="middle" font-size="2.6" fill="#444">KIT</text><rect x="233.8" y="509.75" width="12" height="4" rx="1" fill="#ffffff" stroke="#6a6a6a" stroke-width="0.45"/><text x="239.8" y="512.55" text-anchor="middle" font-size="2.6" fill="#444">RUNX1</text><rect x="233.8" y="512.15" width="12" height="4" rx="1" fill="#ffffff" stroke="#6a6a6a" stroke-width="0.45"/><text x="239.8" y="514.95" text-anchor="middle" font-size="2.6" fill="#444">CEBPA</text><rect x="235.3" y="518.4" width="9" height="4" rx="1" fill="#ffffff" stroke="#6a6a6a" stroke-width="0.45"/><text x="239.8" y="521.2" text-anchor="middle" font-size="2.6" fill="#444">WT1</text><rect x="233.8" y="525.35" width="12" height="4" rx="1" fill="#ffffff" stroke="#6a6a6a" stroke-width="0.45"/><text x="239.8" y="528.15" text-anchor="middle" font-size="2.6" fill="#444">ASXL1</text><rect x="233.05" y="529.45" width="13.5" height="4" rx="1" fill="#ffffff" stroke="#6a6a6a" stroke-width="0.45"/><text x="239.8" y="532.25" text-anchor="middle" font-size="2.6" fill="#444">PTPN11</text><rect x="234.55" y="535.9" width="10.5" height="4" rx="1" fill="#ffffff" stroke="#6a6a6a" stroke-width="0.45"/><text x="239.8" y="538.7" text-anchor="middle" font-size="2.6" fill="#444">KRAS</text><rect x="234.55" y="548.8" width="10.5" height="4" rx="1" fill="#ffffff" stroke="#6a6a6a" stroke-width="0.45"/><text x="239.8" y="551.6" text-anchor="middle" font-size="2.6" fill="#444">NPM1</text><rect x="234.55" y="566.75" width="10.5" height="4" rx="1" fill="#ffffff" stroke="#6a6a6a" stroke-width="0.45"/><text x="239.8" y="569.55" text-anchor="middle" font-size="2.6" fill="#444">TP53</text><rect x="235.3" y="580.5" width="9" height="4" rx="1" fill="#ffffff" stroke="#6a6a6a" stroke-width="0.45"/><text x="239.8" y="583.3" text-anchor="middle" font-size="2.6" fill="#444">WT1</text><path d="M42.3 454.2V586.5M222.7 452.4V586.7" stroke="#3a3a3a" stroke-width="0.6" fill="none"/><rect x="118.3" y="402.2" width="35" height="50.3" fill="#348c57" stroke="#333" stroke-width="0.5"/><text x="135.8" y="424.55" text-anchor="middle" font-size="4.5" font-weight="bold" fill="#000" stroke="#000" stroke-width="0.15">Mutation</text><text x="135.8" y="431.05" text-anchor="middle" font-size="4.5" font-weight="bold" fill="#000" stroke="#000" stroke-width="0.15">disappears</text><rect x="118.3" y="452.5" width="35" height="82.3" fill="#3b6896" stroke="#333" stroke-width="0.5"/><text x="135.8" y="490.85" text-anchor="middle" font-size="4.5" font-weight="bold" fill="#000" stroke="#000" stroke-width="0.15">Mutation</text><text x="135.8" y="497.35" text-anchor="middle" font-size="4.5" font-weight="bold" fill="#000" stroke="#000" stroke-width="0.15">persists</text><rect x="118.3" y="534.8" width="35" height="51.8" fill="#de6f50" stroke="#333" stroke-width="0.5"/><text x="135.8" y="557.9" text-anchor="middle" font-size="4.5" font-weight="bold" fill="#000" stroke="#000" stroke-width="0.15">Mutation</text><text x="135.8" y="564.4" text-anchor="middle" font-size="4.5" font-weight="bold" fill="#000" stroke="#000" stroke-width="0.15">appears</text>
<g fill="#2a8e56" fill-opacity="0.78" stroke="#3a3a3a" stroke-opacity="0.4" stroke-width="0.4"><path d="M298.3 441.3C328.05 441.3 346.85 397.8 376.6 397.8L376.6 398.15C346.85 398.15 328.05 441.67 298.3 441.67Z"/><path d="M298.3 448.6C328.05 448.6 346.85 398.15 376.6 398.15L376.6 399.47C346.85 399.47 328.05 450 298.3 450Z"/><path d="M298.3 450C328.05 450 346.85 399.47 376.6 399.47L376.6 401.46C346.85 401.46 328.05 452.1 298.3 452.1Z"/><path d="M298.3 467.5C328.05 467.5 346.85 401.46 376.6 401.46L376.6 406.76C346.85 406.76 328.05 473.1 298.3 473.1Z"/><path d="M298.3 473.1C328.05 473.1 346.85 406.76 376.6 406.76L376.6 408.43C346.85 408.43 328.05 474.86 298.3 474.86Z"/><path d="M298.3 477.5C328.05 477.5 346.85 408.43 376.6 408.43L376.6 411.41C346.85 411.41 328.05 480.65 298.3 480.65Z"/><path d="M298.3 483.8C328.05 483.8 346.85 411.41 376.6 411.41L376.6 414.16C346.85 414.16 328.05 486.7 298.3 486.7Z"/><path d="M298.3 486.7C328.05 486.7 346.85 414.16 376.6 414.16L376.6 416.81C346.85 416.81 328.05 489.5 298.3 489.5Z"/><path d="M298.3 489.5C328.05 489.5 346.85 416.81 376.6 416.81L376.6 420.52C346.85 420.52 328.05 493.42 298.3 493.42Z"/><path d="M298.3 494.4C328.05 494.4 346.85 420.52 376.6 420.52L376.6 422.02C346.85 422.02 328.05 495.99 298.3 495.99Z"/><path d="M298.3 499.7C328.05 499.7 346.85 422.02 376.6 422.02L376.6 425.3C346.85 425.3 328.05 503.16 298.3 503.16Z"/><path d="M298.3 511.25C328.05 511.25 346.85 425.3 376.6 425.3L376.6 430.56C346.85 430.56 328.05 516.8 298.3 516.8Z"/><path d="M298.3 527.1C328.05 527.1 346.85 430.56 376.6 430.56L376.6 431.64C346.85 431.64 328.05 528.25 298.3 528.25Z"/><path d="M298.3 538.6C328.05 538.6 346.85 431.64 376.6 431.64L376.6 432.79C346.85 432.79 328.05 539.81 298.3 539.81Z"/><path d="M298.3 553.7C328.05 553.7 346.85 432.79 376.6 432.79L376.6 433.92C346.85 433.92 328.05 554.9 298.3 554.9Z"/><path d="M298.3 577.7C328.05 577.7 346.85 433.92 376.6 433.92L376.6 437.9C346.85 437.9 328.05 581.9 298.3 581.9Z"/></g><g fill="#3d6995" fill-opacity="0.75" stroke="#3a3a3a" stroke-opacity="0.4" stroke-width="0.4"><path d="M298.3 441.67C328.05 441.67 346.85 437.9 376.6 437.9L376.6 444.96C346.85 444.96 328.05 448.6 298.3 448.6Z"/><path d="M298.3 452.1C328.05 452.1 346.85 444.96 376.6 444.96L376.6 460.64C346.85 460.64 328.05 467.5 298.3 467.5Z"/><path d="M298.3 474.86C328.05 474.86 346.85 460.64 376.6 460.64L376.6 463.33C346.85 463.33 328.05 477.5 298.3 477.5Z"/><path d="M298.3 480.65C328.05 480.65 346.85 463.33 376.6 463.33L376.6 466.53C346.85 466.53 328.05 483.8 298.3 483.8Z"/><path d="M298.3 493.42C328.05 493.42 346.85 466.53 376.6 466.53L376.6 467.53C346.85 467.53 328.05 494.4 298.3 494.4Z"/><path d="M298.3 495.99C328.05 495.99 346.85 467.53 376.6 467.53L376.6 471.31C346.85 471.31 328.05 499.7 298.3 499.7Z"/><path d="M298.3 503.16C328.05 503.16 346.85 471.31 376.6 471.31L376.6 479.54C346.85 479.54 328.05 511.25 298.3 511.25Z"/><path d="M298.3 516.8C328.05 516.8 346.85 479.54 376.6 479.54L376.6 490.03C346.85 490.03 328.05 527.1 298.3 527.1Z"/><path d="M298.3 528.25C328.05 528.25 346.85 490.03 376.6 490.03L376.6 500.57C346.85 500.57 328.05 538.6 298.3 538.6Z"/><path d="M298.3 539.81C328.05 539.81 346.85 500.57 376.6 500.57L376.6 514.71C346.85 514.71 328.05 553.7 298.3 553.7Z"/><path d="M298.3 554.9C328.05 554.9 346.85 514.71 376.6 514.71L376.6 537.92C346.85 537.92 328.05 577.7 298.3 577.7Z"/><path d="M298.3 581.9C328.05 581.9 346.85 537.92 376.6 537.92L376.6 542.2C346.85 542.2 328.05 586.1 298.3 586.1Z"/></g><g fill="#3d6995" fill-opacity="0.75" stroke="#3a3a3a" stroke-opacity="0.4" stroke-width="0.4"><path d="M411.9 437.9C438.8 437.9 455.8 437.9 482.7 437.9L482.7 444.06C455.8 444.06 438.8 444.21 411.9 444.21Z"/><path d="M411.9 444.21C438.8 444.21 455.8 445.8 482.7 445.8L482.7 451.16C455.8 451.16 438.8 449.69 411.9 449.69Z"/><path d="M411.9 449.69C438.8 449.69 455.8 452.5 482.7 452.5L482.7 466.47C455.8 466.47 438.8 463.99 411.9 463.99Z"/><path d="M411.9 463.99C438.8 463.99 455.8 471.9 482.7 471.9L482.7 473.35C455.8 473.35 438.8 465.47 411.9 465.47Z"/><path d="M411.9 465.47C438.8 465.47 455.8 474.8 482.7 474.8L482.7 475.3C455.8 475.3 438.8 465.98 411.9 465.98Z"/><path d="M411.9 465.98C438.8 465.98 455.8 475.8 482.7 475.8L482.7 476.9C455.8 476.9 438.8 467.11 411.9 467.11Z"/><path d="M411.9 467.11C438.8 467.11 455.8 478 482.7 478L482.7 478.4C455.8 478.4 438.8 467.52 411.9 467.52Z"/><path d="M411.9 467.52C438.8 467.52 455.8 478.8 482.7 478.8L482.7 480.04C455.8 480.04 438.8 468.79 411.9 468.79Z"/><path d="M411.9 468.79C438.8 468.79 455.8 485 482.7 485L482.7 486.5C455.8 486.5 438.8 470.32 411.9 470.32Z"/><path d="M411.9 470.32C438.8 470.32 455.8 488 482.7 488L482.7 488.8C455.8 488.8 438.8 471.14 411.9 471.14Z"/><path d="M411.9 471.14C438.8 471.14 455.8 492 482.7 492L482.7 493.3C455.8 493.3 438.8 472.47 411.9 472.47Z"/><path d="M411.9 472.47C438.8 472.47 455.8 494.6 482.7 494.6L482.7 500.5C455.8 500.5 438.8 478.51 411.9 478.51Z"/><path d="M411.9 478.51C438.8 478.51 455.8 500.5 482.7 500.5L482.7 510.4C455.8 510.4 438.8 488.64 411.9 488.64Z"/><path d="M411.9 488.64C438.8 488.64 455.8 511.5 482.7 511.5L482.7 520.56C455.8 520.56 438.8 497.92 411.9 497.92Z"/><path d="M411.9 497.92C438.8 497.92 455.8 526.6 482.7 526.6L482.7 537.5C455.8 537.5 438.8 509.07 411.9 509.07Z"/><path d="M411.9 509.07C438.8 509.07 455.8 537.5 482.7 537.5L482.7 549.02C455.8 549.02 438.8 520.86 411.9 520.86Z"/><path d="M411.9 520.86C438.8 520.86 455.8 555.5 482.7 555.5L482.7 573.98C455.8 573.98 438.8 539.77 411.9 539.77Z"/><path d="M411.9 539.77C438.8 539.77 455.8 578.6 482.7 578.6L482.7 580.1C455.8 580.1 438.8 541.31 411.9 541.31Z"/><path d="M411.9 541.31C438.8 541.31 455.8 583.6 482.7 583.6L482.7 584.47C455.8 584.47 438.8 542.2 411.9 542.2Z"/></g><g fill="#ba3137" fill-opacity="0.8" stroke="#3a3a3a" stroke-opacity="0.4" stroke-width="0.4"><path d="M411.9 542.2C438.8 542.2 455.8 444.06 482.7 444.06L482.7 445.8C455.8 445.8 438.8 543.83 411.9 543.83Z"/><path d="M411.9 543.83C438.8 543.83 455.8 451.16 482.7 451.16L482.7 452.5C455.8 452.5 438.8 545.09 411.9 545.09Z"/><path d="M411.9 545.09C438.8 545.09 455.8 466.47 482.7 466.47L482.7 471.9C455.8 471.9 438.8 550.2 411.9 550.2Z"/><path d="M411.9 550.2C438.8 550.2 455.8 473.35 482.7 473.35L482.7 474.8C455.8 474.8 438.8 551.56 411.9 551.56Z"/><path d="M411.9 551.56C438.8 551.56 455.8 475.3 482.7 475.3L482.7 475.8C455.8 475.8 438.8 552.03 411.9 552.03Z"/><path d="M411.9 552.03C438.8 552.03 455.8 476.9 482.7 476.9L482.7 478C455.8 478 438.8 553.07 411.9 553.07Z"/><path d="M411.9 553.07C438.8 553.07 455.8 478.4 482.7 478.4L482.7 478.8C455.8 478.8 438.8 553.45 411.9 553.45Z"/><path d="M411.9 553.45C438.8 553.45 455.8 480.04 482.7 480.04L482.7 485C455.8 485 438.8 558.11 411.9 558.11Z"/><path d="M411.9 558.11C438.8 558.11 455.8 486.5 482.7 486.5L482.7 488C455.8 488 438.8 559.52 411.9 559.52Z"/><path d="M411.9 559.52C438.8 559.52 455.8 488.8 482.7 488.8L482.7 492C455.8 492 438.8 562.53 411.9 562.53Z"/><path d="M411.9 562.53C438.8 562.53 455.8 493.3 482.7 493.3L482.7 494.6C455.8 494.6 438.8 563.75 411.9 563.75Z"/><path d="M411.9 563.75C438.8 563.75 455.8 510.4 482.7 510.4L482.7 511.5C455.8 511.5 438.8 564.78 411.9 564.78Z"/><path d="M411.9 564.78C438.8 564.78 455.8 520.56 482.7 520.56L482.7 526.6C455.8 526.6 438.8 570.46 411.9 570.46Z"/><path d="M411.9 570.46C438.8 570.46 455.8 549.02 482.7 549.02L482.7 555.5C455.8 555.5 438.8 576.56 411.9 576.56Z"/><path d="M411.9 576.56C438.8 576.56 455.8 573.98 482.7 573.98L482.7 578.6C455.8 578.6 438.8 580.9 411.9 580.9Z"/><path d="M411.9 580.9C438.8 580.9 455.8 580.1 482.7 580.1L482.7 583.6C455.8 583.6 438.8 584.19 411.9 584.19Z"/><path d="M411.9 584.19C438.8 584.19 455.8 584.47 482.7 584.47L482.7 586.5C455.8 586.5 438.8 586.1 411.9 586.1Z"/></g><rect x="259" y="441.3" width="39.3" height="7.3" fill="#888888" stroke="#5a5a5a" stroke-width="0.35"/><rect x="259" y="448.6" width="39.3" height="1.4" fill="#d0cfd0" stroke="#5a5a5a" stroke-width="0.35"/><rect x="259" y="450" width="39.3" height="17.5" fill="#888888" stroke="#5a5a5a" stroke-width="0.35"/><rect x="259" y="467.5" width="39.3" height="5.6" fill="#d0cfd0" stroke="#5a5a5a" stroke-width="0.35"/><rect x="259" y="473.1" width="39.3" height="4.4" fill="#888888" stroke="#5a5a5a" stroke-width="0.35"/><rect x="259" y="477.5" width="39.3" height="6.3" fill="#d0cfd0" stroke="#5a5a5a" stroke-width="0.35"/><rect x="259" y="483.8" width="39.3" height="2.9" fill="#888888" stroke="#5a5a5a" stroke-width="0.35"/><rect x="259" y="486.7" width="39.3" height="2.8" fill="#d0cfd0" stroke="#5a5a5a" stroke-width="0.35"/><rect x="259" y="489.5" width="39.3" height="4.9" fill="#888888" stroke="#5a5a5a" stroke-width="0.35"/><rect x="259" y="494.4" width="39.3" height="5.3" fill="#d0cfd0" stroke="#5a5a5a" stroke-width="0.35"/><rect x="259" y="499.7" width="39.3" height="11.55" fill="#888888" stroke="#5a5a5a" stroke-width="0.35"/><rect x="259" y="511.25" width="39.3" height="15.85" fill="#d0cfd0" stroke="#5a5a5a" stroke-width="0.35"/><rect x="259" y="527.1" width="39.3" height="11.5" fill="#888888" stroke="#5a5a5a" stroke-width="0.35"/><rect x="259" y="538.6" width="39.3" height="15.1" fill="#d0cfd0" stroke="#5a5a5a" stroke-width="0.35"/><rect x="259" y="553.7" width="39.3" height="24" fill="#888888" stroke="#5a5a5a" stroke-width="0.35"/><rect x="259" y="577.7" width="39.3" height="4.2" fill="#d0cfd0" stroke="#5a5a5a" stroke-width="0.35"/><rect x="259" y="581.9" width="39.3" height="4.2" fill="#888888" stroke="#5a5a5a" stroke-width="0.35"/><rect x="272.65" y="442.95" width="12" height="4" rx="1" fill="#ffffff" stroke="#6a6a6a" stroke-width="0.45"/><text x="278.65" y="445.75" text-anchor="middle" font-size="2.6" fill="#444">ASXL1</text><rect x="273.4" y="447.3" width="10.5" height="4" rx="1" fill="#ffffff" stroke="#6a6a6a" stroke-width="0.45"/><text x="278.65" y="450.1" text-anchor="middle" font-size="2.6" fill="#444">BCOR</text><rect x="271.9" y="456.75" width="13.5" height="4" rx="1" fill="#ffffff" stroke="#6a6a6a" stroke-width="0.45"/><text x="278.65" y="459.55" text-anchor="middle" font-size="2.6" fill="#444">DNMT3A</text><rect x="271.65" y="468.3" width="14" height="4" rx="1" fill="#ffffff" stroke="#6a6a6a" stroke-width="0.45"/><text x="278.65" y="471.1" text-anchor="middle" font-size="2.6" fill="#444">FLT3_ITD</text><rect x="271.65" y="473.3" width="14" height="4" rx="1" fill="#ffffff" stroke="#6a6a6a" stroke-width="0.45"/><text x="278.65" y="476.1" text-anchor="middle" font-size="2.6" fill="#444">FLT3_TKD</text><rect x="273.4" y="478.65" width="10.5" height="4" rx="1" fill="#ffffff" stroke="#6a6a6a" stroke-width="0.45"/><text x="278.65" y="481.45" text-anchor="middle" font-size="2.6" fill="#444">IDH1</text><rect x="273.4" y="483.25" width="10.5" height="4" rx="1" fill="#ffffff" stroke="#6a6a6a" stroke-width="0.45"/><text x="278.65" y="486.05" text-anchor="middle" font-size="2.6" fill="#444">IDH2</text><rect x="274.15" y="486.1" width="9" height="4" rx="1" fill="#ffffff" stroke="#6a6a6a" stroke-width="0.45"/><text x="278.65" y="488.9" text-anchor="middle" font-size="2.6" fill="#444">KIT</text><rect x="273.4" y="489.95" width="10.5" height="4" rx="1" fill="#ffffff" stroke="#6a6a6a" stroke-width="0.45"/><text x="278.65" y="492.75" text-anchor="middle" font-size="2.6" fill="#444">KRAS</text><rect x="273.4" y="495.05" width="10.5" height="4" rx="1" fill="#ffffff" stroke="#6a6a6a" stroke-width="0.45"/><text x="278.65" y="497.85" text-anchor="middle" font-size="2.6" fill="#444">NPM1</text><rect x="273.4" y="503.48" width="10.5" height="4" rx="1" fill="#ffffff" stroke="#6a6a6a" stroke-width="0.45"/><text x="278.65" y="506.28" text-anchor="middle" font-size="2.6" fill="#444">NRAS</text><rect x="271.9" y="517.17" width="13.5" height="4" rx="1" fill="#ffffff" stroke="#6a6a6a" stroke-width="0.45"/><text x="278.65" y="519.97" text-anchor="middle" font-size="2.6" fill="#444">PTPN11</text><rect x="272.65" y="530.85" width="12" height="4" rx="1" fill="#ffffff" stroke="#6a6a6a" stroke-width="0.45"/><text x="278.65" y="533.65" text-anchor="middle" font-size="2.6" fill="#444">RUNX1</text><rect x="272.65" y="544.15" width="12" height="4" rx="1" fill="#ffffff" stroke="#6a6a6a" stroke-width="0.45"/><text x="278.65" y="546.95" text-anchor="middle" font-size="2.6" fill="#444">SRSF2</text><rect x="273.4" y="563.7" width="10.5" height="4" rx="1" fill="#ffffff" stroke="#6a6a6a" stroke-width="0.45"/><text x="278.65" y="566.5" text-anchor="middle" font-size="2.6" fill="#444">TET2</text><rect x="273.4" y="577.8" width="10.5" height="4" rx="1" fill="#ffffff" stroke="#6a6a6a" stroke-width="0.45"/><text x="278.65" y="580.6" text-anchor="middle" font-size="2.6" fill="#444">TP53</text><rect x="274.15" y="582" width="9" height="4" rx="1" fill="#ffffff" stroke="#6a6a6a" stroke-width="0.45"/><text x="278.65" y="584.8" text-anchor="middle" font-size="2.6" fill="#444">WT1</text><rect x="482.7" y="437.9" width="35" height="7.9" fill="#d0cfd0" stroke="#5a5a5a" stroke-width="0.35"/><rect x="482.7" y="445.8" width="35" height="6.7" fill="#888888" stroke="#5a5a5a" stroke-width="0.35"/><rect x="482.7" y="452.5" width="35" height="19.4" fill="#d0cfd0" stroke="#5a5a5a" stroke-width="0.35"/><rect x="482.7" y="471.9" width="35" height="2.9" fill="#888888" stroke="#5a5a5a" stroke-width="0.35"/><rect x="482.7" y="474.8" width="35" height="1" fill="#d0cfd0" stroke="#5a5a5a" stroke-width="0.35"/><rect x="482.7" y="475.8" width="35" height="2.2" fill="#888888" stroke="#5a5a5a" stroke-width="0.35"/><rect x="482.7" y="478" width="35" height="0.8" fill="#d0cfd0" stroke="#5a5a5a" stroke-width="0.35"/><rect x="482.7" y="478.8" width="35" height="6.2" fill="#888888" stroke="#5a5a5a" stroke-width="0.35"/><rect x="482.7" y="485" width="35" height="3" fill="#d0cfd0" stroke="#5a5a5a" stroke-width="0.35"/><rect x="482.7" y="488" width="35" height="4" fill="#888888" stroke="#5a5a5a" stroke-width="0.35"/><rect x="482.7" y="492" width="35" height="2.6" fill="#d0cfd0" stroke="#5a5a5a" stroke-width="0.35"/><rect x="482.7" y="494.6" width="35" height="5.9" fill="#888888" stroke="#5a5a5a" stroke-width="0.35"/><rect x="482.7" y="500.5" width="35" height="11" fill="#d0cfd0" stroke="#5a5a5a" stroke-width="0.35"/><rect x="482.7" y="511.5" width="35" height="15.1" fill="#888888" stroke="#5a5a5a" stroke-width="0.35"/><rect x="482.7" y="526.6" width="35" height="10.9" fill="#d0cfd0" stroke="#5a5a5a" stroke-width="0.35"/><rect x="482.7" y="537.5" width="35" height="18" fill="#888888" stroke="#5a5a5a" stroke-width="0.35"/><rect x="482.7" y="555.5" width="35" height="23.1" fill="#d0cfd0" stroke="#5a5a5a" stroke-width="0.35"/><rect x="482.7" y="578.6" width="35" height="5" fill="#888888" stroke="#5a5a5a" stroke-width="0.35"/><rect x="482.7" y="583.6" width="35" height="2.9" fill="#d0cfd0" stroke="#5a5a5a" stroke-width="0.35"/><rect x="494.2" y="439.85" width="12" height="4" rx="1" fill="#ffffff" stroke="#6a6a6a" stroke-width="0.45"/><text x="500.2" y="442.65" text-anchor="middle" font-size="2.6" fill="#444">ASXL1</text><rect x="494.95" y="447.15" width="10.5" height="4" rx="1" fill="#ffffff" stroke="#6a6a6a" stroke-width="0.45"/><text x="500.2" y="449.95" text-anchor="middle" font-size="2.6" fill="#444">BCOR</text><rect x="493.45" y="460.2" width="13.5" height="4" rx="1" fill="#ffffff" stroke="#6a6a6a" stroke-width="0.45"/><text x="500.2" y="463" text-anchor="middle" font-size="2.6" fill="#444">DNMT3A</text><rect x="493.2" y="471.35" width="14" height="4" rx="1" fill="#ffffff" stroke="#6a6a6a" stroke-width="0.45"/><text x="500.2" y="474.15" text-anchor="middle" font-size="2.6" fill="#444">FLT3_ITD</text><rect x="493.2" y="473.3" width="14" height="4" rx="1" fill="#ffffff" stroke="#6a6a6a" stroke-width="0.45"/><text x="500.2" y="476.1" text-anchor="middle" font-size="2.6" fill="#444">FLT3_TKD</text><rect x="494.95" y="474.9" width="10.5" height="4" rx="1" fill="#ffffff" stroke="#6a6a6a" stroke-width="0.45"/><text x="500.2" y="477.7" text-anchor="middle" font-size="2.6" fill="#444">IDH1</text><rect x="494.95" y="476.4" width="10.5" height="4" rx="1" fill="#ffffff" stroke="#6a6a6a" stroke-width="0.45"/><text x="500.2" y="479.2" text-anchor="middle" font-size="2.6" fill="#444">IDH2</text><rect x="494.95" y="479.9" width="10.5" height="4" rx="1" fill="#ffffff" stroke="#6a6a6a" stroke-width="0.45"/><text x="500.2" y="482.7" text-anchor="middle" font-size="2.6" fill="#444">JAK2</text><rect x="495.7" y="484.5" width="9" height="4" rx="1" fill="#ffffff" stroke="#6a6a6a" stroke-width="0.45"/><text x="500.2" y="487.3" text-anchor="middle" font-size="2.6" fill="#444">KIT</text><rect x="494.95" y="488" width="10.5" height="4" rx="1" fill="#ffffff" stroke="#6a6a6a" stroke-width="0.45"/><text x="500.2" y="490.8" text-anchor="middle" font-size="2.6" fill="#444">KRAS</text><rect x="495.7" y="491.3" width="9" height="4" rx="1" fill="#ffffff" stroke="#6a6a6a" stroke-width="0.45"/><text x="500.2" y="494.1" text-anchor="middle" font-size="2.6" fill="#444">MPL</text><rect x="494.95" y="495.55" width="10.5" height="4" rx="1" fill="#ffffff" stroke="#6a6a6a" stroke-width="0.45"/><text x="500.2" y="498.35" text-anchor="middle" font-size="2.6" fill="#444">NPM1</text><rect x="494.95" y="504" width="10.5" height="4" rx="1" fill="#ffffff" stroke="#6a6a6a" stroke-width="0.45"/><text x="500.2" y="506.8" text-anchor="middle" font-size="2.6" fill="#444">NRAS</text><rect x="493.45" y="517.05" width="13.5" height="4" rx="1" fill="#ffffff" stroke="#6a6a6a" stroke-width="0.45"/><text x="500.2" y="519.85" text-anchor="middle" font-size="2.6" fill="#444">PTPN11</text><rect x="494.2" y="530.05" width="12" height="4" rx="1" fill="#ffffff" stroke="#6a6a6a" stroke-width="0.45"/><text x="500.2" y="532.85" text-anchor="middle" font-size="2.6" fill="#444">RUNX1</text><rect x="494.2" y="544.5" width="12" height="4" rx="1" fill="#ffffff" stroke="#6a6a6a" stroke-width="0.45"/><text x="500.2" y="547.3" text-anchor="middle" font-size="2.6" fill="#444">SRSF2</text><rect x="494.95" y="565.05" width="10.5" height="4" rx="1" fill="#ffffff" stroke="#6a6a6a" stroke-width="0.45"/><text x="500.2" y="567.85" text-anchor="middle" font-size="2.6" fill="#444">TET2</text><rect x="494.95" y="579.1" width="10.5" height="4" rx="1" fill="#ffffff" stroke="#6a6a6a" stroke-width="0.45"/><text x="500.2" y="581.9" text-anchor="middle" font-size="2.6" fill="#444">TP53</text><rect x="495.7" y="583.05" width="9" height="4" rx="1" fill="#ffffff" stroke="#6a6a6a" stroke-width="0.45"/><text x="500.2" y="585.85" text-anchor="middle" font-size="2.6" fill="#444">WT1</text><path d="M298.3 441.3V586.1M482.7 437.9V586.5" stroke="#3a3a3a" stroke-width="0.6" fill="none"/><rect x="376.6" y="397.8" width="35.3" height="40.1" fill="#348c57" stroke="#333" stroke-width="0.5"/><text x="394.25" y="415.05" text-anchor="middle" font-size="4.5" font-weight="bold" fill="#000" stroke="#000" stroke-width="0.15">Mutation</text><text x="394.25" y="421.55" text-anchor="middle" font-size="4.5" font-weight="bold" fill="#000" stroke="#000" stroke-width="0.15">disappears</text><rect x="376.6" y="437.9" width="35.3" height="104.3" fill="#3b6896" stroke="#333" stroke-width="0.5"/><text x="394.25" y="487.25" text-anchor="middle" font-size="4.5" font-weight="bold" fill="#000" stroke="#000" stroke-width="0.15">Mutation</text><text x="394.25" y="493.75" text-anchor="middle" font-size="4.5" font-weight="bold" fill="#000" stroke="#000" stroke-width="0.15">persists</text><rect x="376.6" y="542.2" width="35.3" height="43.9" fill="#de6f50" stroke="#333" stroke-width="0.5"/><text x="394.25" y="561.35" text-anchor="middle" font-size="4.5" font-weight="bold" fill="#000" stroke="#000" stroke-width="0.15">Mutation</text><text x="394.25" y="567.85" text-anchor="middle" font-size="4.5" font-weight="bold" fill="#000" stroke="#000" stroke-width="0.15">appears</text>
</svg></body></html>
